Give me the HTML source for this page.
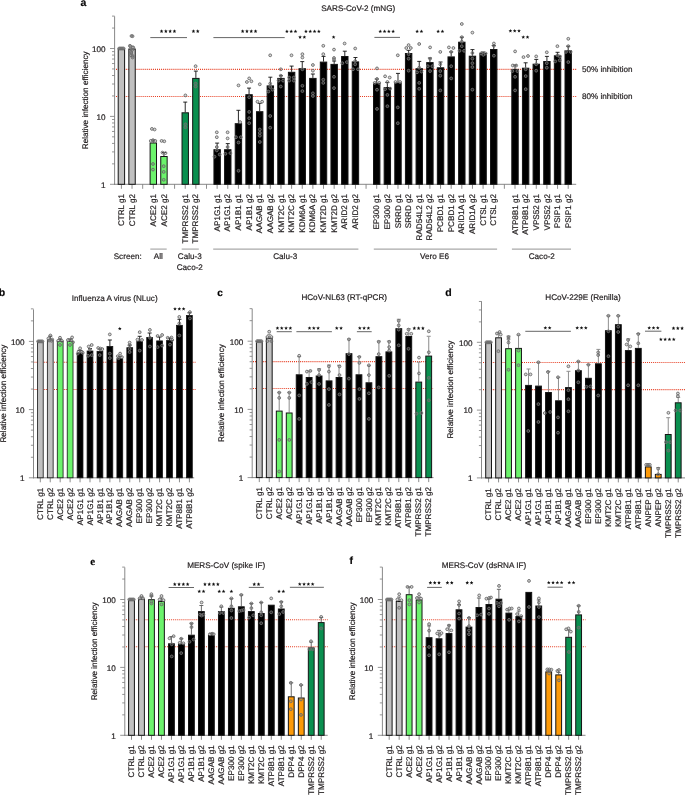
<!DOCTYPE html>
<html><head><meta charset="utf-8"><title>Figure</title>
<style>
html,body{margin:0;padding:0;background:#fff;}
body{width:685px;height:795px;overflow:hidden;font-family:"Liberation Sans", sans-serif;}
svg{display:block;will-change:transform;text-rendering:geometricPrecision;}
text{stroke:#231f20;stroke-width:0.2px;}
</style></head>
<body>
<svg width="685" height="795" viewBox="0 0 685 795">
<rect width="685" height="795" fill="#fff"/>
<line x1="116.00" y1="69.35" x2="576.20" y2="69.35" stroke="#e63a1e" stroke-width="1.05" stroke-dasharray="1 1.05"/>
<line x1="116.00" y1="96.50" x2="576.20" y2="96.50" stroke="#e63a1e" stroke-width="1.05" stroke-dasharray="1 1.05"/>
<line x1="114.60" y1="16.30" x2="114.60" y2="184.80" stroke="#7a7a7a" stroke-width="0.9"/>
<line x1="110.00" y1="184.30" x2="114.60" y2="184.30" stroke="#7a7a7a" stroke-width="0.8"/>
<line x1="112.00" y1="163.86" x2="114.60" y2="163.86" stroke="#7a7a7a" stroke-width="0.8"/>
<line x1="112.00" y1="151.90" x2="114.60" y2="151.90" stroke="#7a7a7a" stroke-width="0.8"/>
<line x1="112.00" y1="143.42" x2="114.60" y2="143.42" stroke="#7a7a7a" stroke-width="0.8"/>
<line x1="112.00" y1="136.84" x2="114.60" y2="136.84" stroke="#7a7a7a" stroke-width="0.8"/>
<line x1="112.00" y1="131.46" x2="114.60" y2="131.46" stroke="#7a7a7a" stroke-width="0.8"/>
<line x1="112.00" y1="126.92" x2="114.60" y2="126.92" stroke="#7a7a7a" stroke-width="0.8"/>
<line x1="112.00" y1="122.98" x2="114.60" y2="122.98" stroke="#7a7a7a" stroke-width="0.8"/>
<line x1="112.00" y1="119.51" x2="114.60" y2="119.51" stroke="#7a7a7a" stroke-width="0.8"/>
<line x1="110.00" y1="116.40" x2="114.60" y2="116.40" stroke="#7a7a7a" stroke-width="0.8"/>
<line x1="112.00" y1="95.96" x2="114.60" y2="95.96" stroke="#7a7a7a" stroke-width="0.8"/>
<line x1="112.00" y1="84.00" x2="114.60" y2="84.00" stroke="#7a7a7a" stroke-width="0.8"/>
<line x1="112.00" y1="75.52" x2="114.60" y2="75.52" stroke="#7a7a7a" stroke-width="0.8"/>
<line x1="112.00" y1="68.94" x2="114.60" y2="68.94" stroke="#7a7a7a" stroke-width="0.8"/>
<line x1="112.00" y1="63.56" x2="114.60" y2="63.56" stroke="#7a7a7a" stroke-width="0.8"/>
<line x1="112.00" y1="59.02" x2="114.60" y2="59.02" stroke="#7a7a7a" stroke-width="0.8"/>
<line x1="112.00" y1="55.08" x2="114.60" y2="55.08" stroke="#7a7a7a" stroke-width="0.8"/>
<line x1="112.00" y1="51.61" x2="114.60" y2="51.61" stroke="#7a7a7a" stroke-width="0.8"/>
<line x1="110.00" y1="48.50" x2="114.60" y2="48.50" stroke="#7a7a7a" stroke-width="0.8"/>
<line x1="112.00" y1="28.06" x2="114.60" y2="28.06" stroke="#7a7a7a" stroke-width="0.8"/>
<line x1="112.00" y1="16.10" x2="114.60" y2="16.10" stroke="#7a7a7a" stroke-width="0.8"/>
<text x="105.60" y="51.80" font-size="8.15" text-anchor="end" font-weight="normal" font-family='"Liberation Sans", sans-serif' fill="#231f20">100</text>
<text x="105.60" y="119.70" font-size="8.15" text-anchor="end" font-weight="normal" font-family='"Liberation Sans", sans-serif' fill="#231f20">10</text>
<text x="105.60" y="187.60" font-size="8.15" text-anchor="end" font-weight="normal" font-family='"Liberation Sans", sans-serif' fill="#231f20">1</text>
<line x1="114.15" y1="184.30" x2="576.20" y2="184.30" stroke="#7a7a7a" stroke-width="0.9"/>
<line x1="121.40" y1="184.30" x2="121.40" y2="188.80" stroke="#7a7a7a" stroke-width="0.85"/>
<line x1="132.04" y1="184.30" x2="132.04" y2="188.80" stroke="#7a7a7a" stroke-width="0.85"/>
<line x1="142.68" y1="184.30" x2="142.68" y2="188.80" stroke="#7a7a7a" stroke-width="0.85"/>
<line x1="153.31" y1="184.30" x2="153.31" y2="188.80" stroke="#7a7a7a" stroke-width="0.85"/>
<line x1="163.95" y1="184.30" x2="163.95" y2="188.80" stroke="#7a7a7a" stroke-width="0.85"/>
<line x1="174.59" y1="184.30" x2="174.59" y2="188.80" stroke="#7a7a7a" stroke-width="0.85"/>
<line x1="185.23" y1="184.30" x2="185.23" y2="188.80" stroke="#7a7a7a" stroke-width="0.85"/>
<line x1="195.87" y1="184.30" x2="195.87" y2="188.80" stroke="#7a7a7a" stroke-width="0.85"/>
<line x1="206.50" y1="184.30" x2="206.50" y2="188.80" stroke="#7a7a7a" stroke-width="0.85"/>
<line x1="217.14" y1="184.30" x2="217.14" y2="188.80" stroke="#7a7a7a" stroke-width="0.85"/>
<line x1="227.78" y1="184.30" x2="227.78" y2="188.80" stroke="#7a7a7a" stroke-width="0.85"/>
<line x1="238.42" y1="184.30" x2="238.42" y2="188.80" stroke="#7a7a7a" stroke-width="0.85"/>
<line x1="249.06" y1="184.30" x2="249.06" y2="188.80" stroke="#7a7a7a" stroke-width="0.85"/>
<line x1="259.69" y1="184.30" x2="259.69" y2="188.80" stroke="#7a7a7a" stroke-width="0.85"/>
<line x1="270.33" y1="184.30" x2="270.33" y2="188.80" stroke="#7a7a7a" stroke-width="0.85"/>
<line x1="280.97" y1="184.30" x2="280.97" y2="188.80" stroke="#7a7a7a" stroke-width="0.85"/>
<line x1="291.61" y1="184.30" x2="291.61" y2="188.80" stroke="#7a7a7a" stroke-width="0.85"/>
<line x1="302.25" y1="184.30" x2="302.25" y2="188.80" stroke="#7a7a7a" stroke-width="0.85"/>
<line x1="312.88" y1="184.30" x2="312.88" y2="188.80" stroke="#7a7a7a" stroke-width="0.85"/>
<line x1="323.52" y1="184.30" x2="323.52" y2="188.80" stroke="#7a7a7a" stroke-width="0.85"/>
<line x1="334.16" y1="184.30" x2="334.16" y2="188.80" stroke="#7a7a7a" stroke-width="0.85"/>
<line x1="344.80" y1="184.30" x2="344.80" y2="188.80" stroke="#7a7a7a" stroke-width="0.85"/>
<line x1="355.44" y1="184.30" x2="355.44" y2="188.80" stroke="#7a7a7a" stroke-width="0.85"/>
<line x1="366.07" y1="184.30" x2="366.07" y2="188.80" stroke="#7a7a7a" stroke-width="0.85"/>
<line x1="376.71" y1="184.30" x2="376.71" y2="188.80" stroke="#7a7a7a" stroke-width="0.85"/>
<line x1="387.35" y1="184.30" x2="387.35" y2="188.80" stroke="#7a7a7a" stroke-width="0.85"/>
<line x1="397.99" y1="184.30" x2="397.99" y2="188.80" stroke="#7a7a7a" stroke-width="0.85"/>
<line x1="408.63" y1="184.30" x2="408.63" y2="188.80" stroke="#7a7a7a" stroke-width="0.85"/>
<line x1="419.26" y1="184.30" x2="419.26" y2="188.80" stroke="#7a7a7a" stroke-width="0.85"/>
<line x1="429.90" y1="184.30" x2="429.90" y2="188.80" stroke="#7a7a7a" stroke-width="0.85"/>
<line x1="440.54" y1="184.30" x2="440.54" y2="188.80" stroke="#7a7a7a" stroke-width="0.85"/>
<line x1="451.18" y1="184.30" x2="451.18" y2="188.80" stroke="#7a7a7a" stroke-width="0.85"/>
<line x1="461.82" y1="184.30" x2="461.82" y2="188.80" stroke="#7a7a7a" stroke-width="0.85"/>
<line x1="472.45" y1="184.30" x2="472.45" y2="188.80" stroke="#7a7a7a" stroke-width="0.85"/>
<line x1="483.09" y1="184.30" x2="483.09" y2="188.80" stroke="#7a7a7a" stroke-width="0.85"/>
<line x1="493.73" y1="184.30" x2="493.73" y2="188.80" stroke="#7a7a7a" stroke-width="0.85"/>
<line x1="504.37" y1="184.30" x2="504.37" y2="188.80" stroke="#7a7a7a" stroke-width="0.85"/>
<line x1="515.01" y1="184.30" x2="515.01" y2="188.80" stroke="#7a7a7a" stroke-width="0.85"/>
<line x1="525.64" y1="184.30" x2="525.64" y2="188.80" stroke="#7a7a7a" stroke-width="0.85"/>
<line x1="536.28" y1="184.30" x2="536.28" y2="188.80" stroke="#7a7a7a" stroke-width="0.85"/>
<line x1="546.92" y1="184.30" x2="546.92" y2="188.80" stroke="#7a7a7a" stroke-width="0.85"/>
<line x1="557.56" y1="184.30" x2="557.56" y2="188.80" stroke="#7a7a7a" stroke-width="0.85"/>
<line x1="568.20" y1="184.30" x2="568.20" y2="188.80" stroke="#7a7a7a" stroke-width="0.85"/>
<rect x="118.20" y="49.00" width="6.40" height="135.30" fill="#c0c0c0" stroke="#141414" stroke-width="1.0"/>
<text x="124.00" y="193.90" font-size="8.15" text-anchor="end" font-weight="normal" font-family='"Liberation Sans", sans-serif' fill="#231f20" transform="rotate(-90 124.00 193.90)">CTRL g1</text>
<rect x="128.84" y="49.00" width="6.40" height="135.30" fill="#c0c0c0" stroke="#141414" stroke-width="1.0"/>
<text x="134.64" y="193.90" font-size="8.15" text-anchor="end" font-weight="normal" font-family='"Liberation Sans", sans-serif' fill="#231f20" transform="rotate(-90 134.64 193.90)">CTRL g2</text>
<line x1="153.31" y1="142.50" x2="153.31" y2="140.00" stroke="#111" stroke-width="0.9"/>
<line x1="151.31" y1="140.00" x2="155.31" y2="140.00" stroke="#111" stroke-width="0.9"/>
<rect x="150.11" y="143.00" width="6.40" height="41.30" fill="#6cf36c" stroke="#141414" stroke-width="1.0"/>
<text x="155.91" y="193.90" font-size="8.15" text-anchor="end" font-weight="normal" font-family='"Liberation Sans", sans-serif' fill="#231f20" transform="rotate(-90 155.91 193.90)">ACE2 g1</text>
<line x1="163.95" y1="156.00" x2="163.95" y2="152.50" stroke="#111" stroke-width="0.9"/>
<line x1="161.95" y1="152.50" x2="165.95" y2="152.50" stroke="#111" stroke-width="0.9"/>
<rect x="160.75" y="156.50" width="6.40" height="27.80" fill="#6cf36c" stroke="#141414" stroke-width="1.0"/>
<text x="166.55" y="193.90" font-size="8.15" text-anchor="end" font-weight="normal" font-family='"Liberation Sans", sans-serif' fill="#231f20" transform="rotate(-90 166.55 193.90)">ACE2 g2</text>
<line x1="185.23" y1="112.30" x2="185.23" y2="102.10" stroke="#111" stroke-width="0.9"/>
<line x1="183.23" y1="102.10" x2="187.23" y2="102.10" stroke="#111" stroke-width="0.9"/>
<rect x="182.03" y="112.80" width="6.40" height="71.50" fill="#0a8f4f" stroke="#141414" stroke-width="1.0"/>
<text x="187.83" y="193.90" font-size="8.15" text-anchor="end" font-weight="normal" font-family='"Liberation Sans", sans-serif' fill="#231f20" transform="rotate(-90 187.83 193.90)">TMPRSS2 g1</text>
<line x1="195.87" y1="77.90" x2="195.87" y2="71.10" stroke="#111" stroke-width="0.9"/>
<line x1="193.87" y1="71.10" x2="197.87" y2="71.10" stroke="#111" stroke-width="0.9"/>
<rect x="192.67" y="78.40" width="6.40" height="105.90" fill="#0a8f4f" stroke="#141414" stroke-width="1.0"/>
<text x="198.47" y="193.90" font-size="8.15" text-anchor="end" font-weight="normal" font-family='"Liberation Sans", sans-serif' fill="#231f20" transform="rotate(-90 198.47 193.90)">TMPRSS2 g2</text>
<line x1="217.14" y1="149.20" x2="217.14" y2="143.10" stroke="#111" stroke-width="0.9"/>
<line x1="215.14" y1="143.10" x2="219.14" y2="143.10" stroke="#111" stroke-width="0.9"/>
<rect x="213.94" y="149.70" width="6.40" height="34.60" fill="#000000" stroke="#141414" stroke-width="1.0"/>
<text x="219.74" y="193.90" font-size="8.15" text-anchor="end" font-weight="normal" font-family='"Liberation Sans", sans-serif' fill="#231f20" transform="rotate(-90 219.74 193.90)">AP1G1 g1</text>
<line x1="227.78" y1="149.20" x2="227.78" y2="143.60" stroke="#111" stroke-width="0.9"/>
<line x1="225.78" y1="143.60" x2="229.78" y2="143.60" stroke="#111" stroke-width="0.9"/>
<rect x="224.58" y="149.70" width="6.40" height="34.60" fill="#000000" stroke="#141414" stroke-width="1.0"/>
<text x="230.38" y="193.90" font-size="8.15" text-anchor="end" font-weight="normal" font-family='"Liberation Sans", sans-serif' fill="#231f20" transform="rotate(-90 230.38 193.90)">AP1G1 g2</text>
<line x1="238.42" y1="123.20" x2="238.42" y2="110.30" stroke="#111" stroke-width="0.9"/>
<line x1="236.42" y1="110.30" x2="240.42" y2="110.30" stroke="#111" stroke-width="0.9"/>
<rect x="235.22" y="123.70" width="6.40" height="60.60" fill="#000000" stroke="#141414" stroke-width="1.0"/>
<text x="241.02" y="193.90" font-size="8.15" text-anchor="end" font-weight="normal" font-family='"Liberation Sans", sans-serif' fill="#231f20" transform="rotate(-90 241.02 193.90)">AP1B1 g1</text>
<line x1="249.06" y1="94.20" x2="249.06" y2="88.10" stroke="#111" stroke-width="0.9"/>
<line x1="247.06" y1="88.10" x2="251.06" y2="88.10" stroke="#111" stroke-width="0.9"/>
<rect x="245.86" y="94.70" width="6.40" height="89.60" fill="#000000" stroke="#141414" stroke-width="1.0"/>
<text x="251.66" y="193.90" font-size="8.15" text-anchor="end" font-weight="normal" font-family='"Liberation Sans", sans-serif' fill="#231f20" transform="rotate(-90 251.66 193.90)">AP1B1 g2</text>
<line x1="259.69" y1="111.20" x2="259.69" y2="103.30" stroke="#111" stroke-width="0.9"/>
<line x1="257.69" y1="103.30" x2="261.69" y2="103.30" stroke="#111" stroke-width="0.9"/>
<rect x="256.49" y="111.70" width="6.40" height="72.60" fill="#000000" stroke="#141414" stroke-width="1.0"/>
<text x="262.29" y="193.90" font-size="8.15" text-anchor="end" font-weight="normal" font-family='"Liberation Sans", sans-serif' fill="#231f20" transform="rotate(-90 262.29 193.90)">AAGAB g1</text>
<line x1="270.33" y1="85.40" x2="270.33" y2="77.20" stroke="#111" stroke-width="0.9"/>
<line x1="268.33" y1="77.20" x2="272.33" y2="77.20" stroke="#111" stroke-width="0.9"/>
<rect x="267.13" y="85.90" width="6.40" height="98.40" fill="#000000" stroke="#141414" stroke-width="1.0"/>
<text x="272.93" y="193.90" font-size="8.15" text-anchor="end" font-weight="normal" font-family='"Liberation Sans", sans-serif' fill="#231f20" transform="rotate(-90 272.93 193.90)">AAGAB g2</text>
<line x1="280.97" y1="77.90" x2="280.97" y2="75.70" stroke="#111" stroke-width="0.9"/>
<line x1="278.97" y1="75.70" x2="282.97" y2="75.70" stroke="#111" stroke-width="0.9"/>
<rect x="277.77" y="78.40" width="6.40" height="105.90" fill="#000000" stroke="#141414" stroke-width="1.0"/>
<text x="283.57" y="193.90" font-size="8.15" text-anchor="end" font-weight="normal" font-family='"Liberation Sans", sans-serif' fill="#231f20" transform="rotate(-90 283.57 193.90)">KMT2C g1</text>
<line x1="291.61" y1="71.80" x2="291.61" y2="66.10" stroke="#111" stroke-width="0.9"/>
<line x1="289.61" y1="66.10" x2="293.61" y2="66.10" stroke="#111" stroke-width="0.9"/>
<rect x="288.41" y="72.30" width="6.40" height="112.00" fill="#000000" stroke="#141414" stroke-width="1.0"/>
<text x="294.21" y="193.90" font-size="8.15" text-anchor="end" font-weight="normal" font-family='"Liberation Sans", sans-serif' fill="#231f20" transform="rotate(-90 294.21 193.90)">KMT2C g2</text>
<line x1="302.25" y1="68.20" x2="302.25" y2="61.60" stroke="#111" stroke-width="0.9"/>
<line x1="300.25" y1="61.60" x2="304.25" y2="61.60" stroke="#111" stroke-width="0.9"/>
<rect x="299.05" y="68.70" width="6.40" height="115.60" fill="#000000" stroke="#141414" stroke-width="1.0"/>
<text x="304.85" y="193.90" font-size="8.15" text-anchor="end" font-weight="normal" font-family='"Liberation Sans", sans-serif' fill="#231f20" transform="rotate(-90 304.85 193.90)">KDM6A g1</text>
<line x1="312.88" y1="77.90" x2="312.88" y2="74.00" stroke="#111" stroke-width="0.9"/>
<line x1="310.88" y1="74.00" x2="314.88" y2="74.00" stroke="#111" stroke-width="0.9"/>
<rect x="309.68" y="78.40" width="6.40" height="105.90" fill="#000000" stroke="#141414" stroke-width="1.0"/>
<text x="315.48" y="193.90" font-size="8.15" text-anchor="end" font-weight="normal" font-family='"Liberation Sans", sans-serif' fill="#231f20" transform="rotate(-90 315.48 193.90)">KDM6A g2</text>
<line x1="323.52" y1="61.60" x2="323.52" y2="56.40" stroke="#111" stroke-width="0.9"/>
<line x1="321.52" y1="56.40" x2="325.52" y2="56.40" stroke="#111" stroke-width="0.9"/>
<rect x="320.32" y="62.10" width="6.40" height="122.20" fill="#000000" stroke="#141414" stroke-width="1.0"/>
<text x="326.12" y="193.90" font-size="8.15" text-anchor="end" font-weight="normal" font-family='"Liberation Sans", sans-serif' fill="#231f20" transform="rotate(-90 326.12 193.90)">KMT2D g1</text>
<line x1="334.16" y1="63.90" x2="334.16" y2="61.00" stroke="#111" stroke-width="0.9"/>
<line x1="332.16" y1="61.00" x2="336.16" y2="61.00" stroke="#111" stroke-width="0.9"/>
<rect x="330.96" y="64.40" width="6.40" height="119.90" fill="#000000" stroke="#141414" stroke-width="1.0"/>
<text x="336.76" y="193.90" font-size="8.15" text-anchor="end" font-weight="normal" font-family='"Liberation Sans", sans-serif' fill="#231f20" transform="rotate(-90 336.76 193.90)">KMT2D g2</text>
<line x1="344.80" y1="56.00" x2="344.80" y2="51.20" stroke="#111" stroke-width="0.9"/>
<line x1="342.80" y1="51.20" x2="346.80" y2="51.20" stroke="#111" stroke-width="0.9"/>
<rect x="341.60" y="56.50" width="6.40" height="127.80" fill="#000000" stroke="#141414" stroke-width="1.0"/>
<text x="347.40" y="193.90" font-size="8.15" text-anchor="end" font-weight="normal" font-family='"Liberation Sans", sans-serif' fill="#231f20" transform="rotate(-90 347.40 193.90)">ARID2 g1</text>
<line x1="355.44" y1="61.40" x2="355.44" y2="57.50" stroke="#111" stroke-width="0.9"/>
<line x1="353.44" y1="57.50" x2="357.44" y2="57.50" stroke="#111" stroke-width="0.9"/>
<rect x="352.24" y="61.90" width="6.40" height="122.40" fill="#000000" stroke="#141414" stroke-width="1.0"/>
<text x="358.04" y="193.90" font-size="8.15" text-anchor="end" font-weight="normal" font-family='"Liberation Sans", sans-serif' fill="#231f20" transform="rotate(-90 358.04 193.90)">ARID2 g2</text>
<line x1="376.71" y1="82.90" x2="376.71" y2="79.00" stroke="#111" stroke-width="0.9"/>
<line x1="374.71" y1="79.00" x2="378.71" y2="79.00" stroke="#111" stroke-width="0.9"/>
<rect x="373.51" y="83.40" width="6.40" height="100.90" fill="#000000" stroke="#141414" stroke-width="1.0"/>
<text x="379.31" y="193.90" font-size="8.15" text-anchor="end" font-weight="normal" font-family='"Liberation Sans", sans-serif' fill="#231f20" transform="rotate(-90 379.31 193.90)">EP300 g1</text>
<line x1="387.35" y1="87.00" x2="387.35" y2="82.50" stroke="#111" stroke-width="0.9"/>
<line x1="385.35" y1="82.50" x2="389.35" y2="82.50" stroke="#111" stroke-width="0.9"/>
<rect x="384.15" y="87.50" width="6.40" height="96.80" fill="#000000" stroke="#141414" stroke-width="1.0"/>
<text x="389.95" y="193.90" font-size="8.15" text-anchor="end" font-weight="normal" font-family='"Liberation Sans", sans-serif' fill="#231f20" transform="rotate(-90 389.95 193.90)">EP300 g2</text>
<line x1="397.99" y1="82.50" x2="397.99" y2="73.40" stroke="#111" stroke-width="0.9"/>
<line x1="395.99" y1="73.40" x2="399.99" y2="73.40" stroke="#111" stroke-width="0.9"/>
<rect x="394.79" y="83.00" width="6.40" height="101.30" fill="#000000" stroke="#141414" stroke-width="1.0"/>
<text x="400.59" y="193.90" font-size="8.15" text-anchor="end" font-weight="normal" font-family='"Liberation Sans", sans-serif' fill="#231f20" transform="rotate(-90 400.59 193.90)">SRRD g1</text>
<line x1="408.63" y1="53.00" x2="408.63" y2="50.30" stroke="#111" stroke-width="0.9"/>
<line x1="406.63" y1="50.30" x2="410.63" y2="50.30" stroke="#111" stroke-width="0.9"/>
<rect x="405.43" y="53.50" width="6.40" height="130.80" fill="#000000" stroke="#141414" stroke-width="1.0"/>
<text x="411.23" y="193.90" font-size="8.15" text-anchor="end" font-weight="normal" font-family='"Liberation Sans", sans-serif' fill="#231f20" transform="rotate(-90 411.23 193.90)">SRRD g2</text>
<line x1="419.26" y1="68.20" x2="419.26" y2="61.40" stroke="#111" stroke-width="0.9"/>
<line x1="417.26" y1="61.40" x2="421.26" y2="61.40" stroke="#111" stroke-width="0.9"/>
<rect x="416.06" y="68.70" width="6.40" height="115.60" fill="#000000" stroke="#141414" stroke-width="1.0"/>
<text x="421.86" y="193.90" font-size="8.15" text-anchor="end" font-weight="normal" font-family='"Liberation Sans", sans-serif' fill="#231f20" transform="rotate(-90 421.86 193.90)">RAD54L2 g1</text>
<line x1="429.90" y1="62.10" x2="429.90" y2="58.00" stroke="#111" stroke-width="0.9"/>
<line x1="427.90" y1="58.00" x2="431.90" y2="58.00" stroke="#111" stroke-width="0.9"/>
<rect x="426.70" y="62.60" width="6.40" height="121.70" fill="#000000" stroke="#141414" stroke-width="1.0"/>
<text x="432.50" y="193.90" font-size="8.15" text-anchor="end" font-weight="normal" font-family='"Liberation Sans", sans-serif' fill="#231f20" transform="rotate(-90 432.50 193.90)">RAD54L2 g2</text>
<line x1="440.54" y1="67.30" x2="440.54" y2="62.00" stroke="#111" stroke-width="0.9"/>
<line x1="438.54" y1="62.00" x2="442.54" y2="62.00" stroke="#111" stroke-width="0.9"/>
<rect x="437.34" y="67.80" width="6.40" height="116.50" fill="#000000" stroke="#141414" stroke-width="1.0"/>
<text x="443.14" y="193.90" font-size="8.15" text-anchor="end" font-weight="normal" font-family='"Liberation Sans", sans-serif' fill="#231f20" transform="rotate(-90 443.14 193.90)">PCBD1 g1</text>
<line x1="451.18" y1="56.40" x2="451.18" y2="51.90" stroke="#111" stroke-width="0.9"/>
<line x1="449.18" y1="51.90" x2="453.18" y2="51.90" stroke="#111" stroke-width="0.9"/>
<rect x="447.98" y="56.90" width="6.40" height="127.40" fill="#000000" stroke="#141414" stroke-width="1.0"/>
<text x="453.78" y="193.90" font-size="8.15" text-anchor="end" font-weight="normal" font-family='"Liberation Sans", sans-serif' fill="#231f20" transform="rotate(-90 453.78 193.90)">PCBD1 g2</text>
<line x1="461.82" y1="41.70" x2="461.82" y2="37.20" stroke="#111" stroke-width="0.9"/>
<line x1="459.82" y1="37.20" x2="463.82" y2="37.20" stroke="#111" stroke-width="0.9"/>
<rect x="458.62" y="42.20" width="6.40" height="142.10" fill="#000000" stroke="#141414" stroke-width="1.0"/>
<text x="464.42" y="193.90" font-size="8.15" text-anchor="end" font-weight="normal" font-family='"Liberation Sans", sans-serif' fill="#231f20" transform="rotate(-90 464.42 193.90)">ARID1A g1</text>
<line x1="472.45" y1="55.70" x2="472.45" y2="49.60" stroke="#111" stroke-width="0.9"/>
<line x1="470.45" y1="49.60" x2="474.45" y2="49.60" stroke="#111" stroke-width="0.9"/>
<rect x="469.25" y="56.20" width="6.40" height="128.10" fill="#000000" stroke="#141414" stroke-width="1.0"/>
<text x="475.05" y="193.90" font-size="8.15" text-anchor="end" font-weight="normal" font-family='"Liberation Sans", sans-serif' fill="#231f20" transform="rotate(-90 475.05 193.90)">ARID1A g2</text>
<line x1="483.09" y1="53.00" x2="483.09" y2="52.00" stroke="#111" stroke-width="0.9"/>
<line x1="481.09" y1="52.00" x2="485.09" y2="52.00" stroke="#111" stroke-width="0.9"/>
<rect x="479.89" y="53.50" width="6.40" height="130.80" fill="#000000" stroke="#141414" stroke-width="1.0"/>
<text x="485.69" y="193.90" font-size="8.15" text-anchor="end" font-weight="normal" font-family='"Liberation Sans", sans-serif' fill="#231f20" transform="rotate(-90 485.69 193.90)">CTSL g1</text>
<line x1="493.73" y1="49.00" x2="493.73" y2="45.50" stroke="#111" stroke-width="0.9"/>
<line x1="491.73" y1="45.50" x2="495.73" y2="45.50" stroke="#111" stroke-width="0.9"/>
<rect x="490.53" y="49.50" width="6.40" height="134.80" fill="#000000" stroke="#141414" stroke-width="1.0"/>
<text x="496.33" y="193.90" font-size="8.15" text-anchor="end" font-weight="normal" font-family='"Liberation Sans", sans-serif' fill="#231f20" transform="rotate(-90 496.33 193.90)">CTSL g2</text>
<line x1="515.01" y1="68.90" x2="515.01" y2="65.00" stroke="#111" stroke-width="0.9"/>
<line x1="513.01" y1="65.00" x2="517.01" y2="65.00" stroke="#111" stroke-width="0.9"/>
<rect x="511.81" y="69.40" width="6.40" height="114.90" fill="#000000" stroke="#141414" stroke-width="1.0"/>
<text x="517.61" y="193.90" font-size="8.15" text-anchor="end" font-weight="normal" font-family='"Liberation Sans", sans-serif' fill="#231f20" transform="rotate(-90 517.61 193.90)">ATP8B1 g1</text>
<line x1="525.64" y1="67.70" x2="525.64" y2="62.80" stroke="#111" stroke-width="0.9"/>
<line x1="523.64" y1="62.80" x2="527.64" y2="62.80" stroke="#111" stroke-width="0.9"/>
<rect x="522.44" y="68.20" width="6.40" height="116.10" fill="#000000" stroke="#141414" stroke-width="1.0"/>
<text x="528.24" y="193.90" font-size="8.15" text-anchor="end" font-weight="normal" font-family='"Liberation Sans", sans-serif' fill="#231f20" transform="rotate(-90 528.24 193.90)">ATP8B1 g2</text>
<line x1="536.28" y1="63.70" x2="536.28" y2="59.40" stroke="#111" stroke-width="0.9"/>
<line x1="534.28" y1="59.40" x2="538.28" y2="59.40" stroke="#111" stroke-width="0.9"/>
<rect x="533.08" y="64.20" width="6.40" height="120.10" fill="#000000" stroke="#141414" stroke-width="1.0"/>
<text x="538.88" y="193.90" font-size="8.15" text-anchor="end" font-weight="normal" font-family='"Liberation Sans", sans-serif' fill="#231f20" transform="rotate(-90 538.88 193.90)">VPS52 g1</text>
<line x1="546.92" y1="61.00" x2="546.92" y2="56.40" stroke="#111" stroke-width="0.9"/>
<line x1="544.92" y1="56.40" x2="548.92" y2="56.40" stroke="#111" stroke-width="0.9"/>
<rect x="543.72" y="61.50" width="6.40" height="122.80" fill="#000000" stroke="#141414" stroke-width="1.0"/>
<text x="549.52" y="193.90" font-size="8.15" text-anchor="end" font-weight="normal" font-family='"Liberation Sans", sans-serif' fill="#231f20" transform="rotate(-90 549.52 193.90)">VPS52 g2</text>
<line x1="557.56" y1="55.30" x2="557.56" y2="52.30" stroke="#111" stroke-width="0.9"/>
<line x1="555.56" y1="52.30" x2="559.56" y2="52.30" stroke="#111" stroke-width="0.9"/>
<rect x="554.36" y="55.80" width="6.40" height="128.50" fill="#000000" stroke="#141414" stroke-width="1.0"/>
<text x="560.16" y="193.90" font-size="8.15" text-anchor="end" font-weight="normal" font-family='"Liberation Sans", sans-serif' fill="#231f20" transform="rotate(-90 560.16 193.90)">PSIP1 g1</text>
<line x1="568.20" y1="50.30" x2="568.20" y2="46.20" stroke="#111" stroke-width="0.9"/>
<line x1="566.20" y1="46.20" x2="570.20" y2="46.20" stroke="#111" stroke-width="0.9"/>
<rect x="565.00" y="50.80" width="6.40" height="133.50" fill="#000000" stroke="#141414" stroke-width="1.0"/>
<text x="570.80" y="193.90" font-size="8.15" text-anchor="end" font-weight="normal" font-family='"Liberation Sans", sans-serif' fill="#231f20" transform="rotate(-90 570.80 193.90)">PSIP1 g2</text>
<g fill="rgba(128,128,128,0.3)" stroke="#6e6e6e" stroke-width="0.95"><circle cx="119.20" cy="48.50" r="1.4"/><circle cx="120.30" cy="48.50" r="1.4"/><circle cx="121.40" cy="48.50" r="1.4"/><circle cx="122.50" cy="48.50" r="1.4"/><circle cx="123.60" cy="48.50" r="1.4"/><circle cx="132.54" cy="36.20" r="1.4"/><circle cx="130.54" cy="46.50" r="1.4"/><circle cx="133.24" cy="47.50" r="1.4"/><circle cx="132.04" cy="50.00" r="1.4"/><circle cx="131.24" cy="53.00" r="1.4"/><circle cx="132.64" cy="56.00" r="1.4"/><circle cx="131.50" cy="36.00" r="1.4"/><circle cx="129.90" cy="45.80" r="1.4"/><circle cx="132.60" cy="47.40" r="1.4"/><circle cx="131.00" cy="51.90" r="1.4"/><circle cx="131.00" cy="55.30" r="1.4"/><circle cx="132.60" cy="57.50" r="1.4"/><circle cx="151.90" cy="128.90" r="1.4"/><circle cx="154.60" cy="129.50" r="1.4"/><circle cx="150.80" cy="140.90" r="1.4"/><circle cx="153.00" cy="140.20" r="1.4"/><circle cx="155.30" cy="140.90" r="1.4"/><circle cx="153.00" cy="164.00" r="1.4"/><circle cx="153.00" cy="169.60" r="1.4"/><circle cx="161.60" cy="140.90" r="1.4"/><circle cx="164.30" cy="141.30" r="1.4"/><circle cx="162.50" cy="152.60" r="1.4"/><circle cx="165.50" cy="153.10" r="1.4"/><circle cx="163.70" cy="166.20" r="1.4"/><circle cx="163.70" cy="171.90" r="1.4"/><circle cx="163.70" cy="179.80" r="1.4"/><circle cx="185.40" cy="95.40" r="1.4"/><circle cx="185.40" cy="124.30" r="1.4"/><circle cx="185.40" cy="127.30" r="1.4"/><circle cx="195.60" cy="66.20" r="1.4"/><circle cx="195.60" cy="83.60" r="1.4"/><circle cx="195.60" cy="86.50" r="1.4"/><circle cx="216.80" cy="132.30" r="1.4"/><circle cx="216.80" cy="137.20" r="1.4"/><circle cx="216.80" cy="147.00" r="1.4"/><circle cx="214.50" cy="156.70" r="1.4"/><circle cx="219.70" cy="154.50" r="1.4"/><circle cx="216.80" cy="150.40" r="1.4"/><circle cx="227.60" cy="132.30" r="1.4"/><circle cx="227.60" cy="138.40" r="1.4"/><circle cx="227.60" cy="147.00" r="1.4"/><circle cx="225.40" cy="153.80" r="1.4"/><circle cx="230.40" cy="153.10" r="1.4"/><circle cx="238.50" cy="85.40" r="1.4"/><circle cx="240.10" cy="122.10" r="1.4"/><circle cx="236.00" cy="137.20" r="1.4"/><circle cx="238.50" cy="142.50" r="1.4"/><circle cx="240.80" cy="137.20" r="1.4"/><circle cx="238.50" cy="170.80" r="1.4"/><circle cx="246.90" cy="82.00" r="1.4"/><circle cx="249.20" cy="78.40" r="1.4"/><circle cx="251.40" cy="81.30" r="1.4"/><circle cx="249.20" cy="97.20" r="1.4"/><circle cx="249.20" cy="111.90" r="1.4"/><circle cx="249.20" cy="118.20" r="1.4"/><circle cx="249.20" cy="123.20" r="1.4"/><circle cx="259.80" cy="84.30" r="1.4"/><circle cx="257.50" cy="101.70" r="1.4"/><circle cx="262.10" cy="101.70" r="1.4"/><circle cx="259.80" cy="129.50" r="1.4"/><circle cx="259.80" cy="132.90" r="1.4"/><circle cx="259.80" cy="135.70" r="1.4"/><circle cx="259.80" cy="142.00" r="1.4"/><circle cx="270.20" cy="55.30" r="1.4"/><circle cx="270.20" cy="83.60" r="1.4"/><circle cx="268.40" cy="91.50" r="1.4"/><circle cx="272.50" cy="89.70" r="1.4"/><circle cx="270.20" cy="87.00" r="1.4"/><circle cx="270.20" cy="116.00" r="1.4"/><circle cx="270.20" cy="127.70" r="1.4"/><circle cx="280.80" cy="69.30" r="1.4"/><circle cx="280.80" cy="75.70" r="1.4"/><circle cx="278.60" cy="80.60" r="1.4"/><circle cx="283.10" cy="80.60" r="1.4"/><circle cx="280.80" cy="86.50" r="1.4"/><circle cx="291.50" cy="55.30" r="1.4"/><circle cx="289.20" cy="77.50" r="1.4"/><circle cx="293.80" cy="77.50" r="1.4"/><circle cx="289.20" cy="80.60" r="1.4"/><circle cx="293.80" cy="80.60" r="1.4"/><circle cx="302.40" cy="54.20" r="1.4"/><circle cx="302.40" cy="57.50" r="1.4"/><circle cx="302.40" cy="69.30" r="1.4"/><circle cx="302.40" cy="85.80" r="1.4"/><circle cx="302.40" cy="91.10" r="1.4"/><circle cx="312.90" cy="65.00" r="1.4"/><circle cx="312.90" cy="70.70" r="1.4"/><circle cx="312.90" cy="93.30" r="1.4"/><circle cx="312.90" cy="96.00" r="1.4"/><circle cx="323.30" cy="45.80" r="1.4"/><circle cx="323.30" cy="54.20" r="1.4"/><circle cx="323.30" cy="79.70" r="1.4"/><circle cx="323.30" cy="82.90" r="1.4"/><circle cx="334.00" cy="49.60" r="1.4"/><circle cx="334.00" cy="58.00" r="1.4"/><circle cx="334.00" cy="59.40" r="1.4"/><circle cx="334.00" cy="76.80" r="1.4"/><circle cx="334.00" cy="88.10" r="1.4"/><circle cx="344.60" cy="43.50" r="1.4"/><circle cx="342.30" cy="63.20" r="1.4"/><circle cx="346.90" cy="62.10" r="1.4"/><circle cx="355.20" cy="48.50" r="1.4"/><circle cx="355.20" cy="61.00" r="1.4"/><circle cx="355.20" cy="64.30" r="1.4"/><circle cx="353.00" cy="69.30" r="1.4"/><circle cx="358.00" cy="69.30" r="1.4"/><circle cx="377.00" cy="68.40" r="1.4"/><circle cx="377.00" cy="79.00" r="1.4"/><circle cx="374.70" cy="82.90" r="1.4"/><circle cx="379.20" cy="82.90" r="1.4"/><circle cx="377.00" cy="89.70" r="1.4"/><circle cx="377.00" cy="108.90" r="1.4"/><circle cx="385.10" cy="76.30" r="1.4"/><circle cx="389.70" cy="77.50" r="1.4"/><circle cx="387.40" cy="82.00" r="1.4"/><circle cx="385.10" cy="89.20" r="1.4"/><circle cx="390.10" cy="88.60" r="1.4"/><circle cx="387.40" cy="94.90" r="1.4"/><circle cx="387.40" cy="106.20" r="1.4"/><circle cx="397.80" cy="55.30" r="1.4"/><circle cx="395.50" cy="82.00" r="1.4"/><circle cx="400.10" cy="82.00" r="1.4"/><circle cx="397.80" cy="107.40" r="1.4"/><circle cx="397.80" cy="123.20" r="1.4"/><circle cx="408.60" cy="45.10" r="1.4"/><circle cx="406.30" cy="48.00" r="1.4"/><circle cx="410.80" cy="48.00" r="1.4"/><circle cx="408.60" cy="54.20" r="1.4"/><circle cx="408.60" cy="58.70" r="1.4"/><circle cx="408.60" cy="70.70" r="1.4"/><circle cx="419.20" cy="44.00" r="1.4"/><circle cx="419.20" cy="67.70" r="1.4"/><circle cx="417.00" cy="72.30" r="1.4"/><circle cx="421.50" cy="71.60" r="1.4"/><circle cx="419.20" cy="82.90" r="1.4"/><circle cx="419.20" cy="88.80" r="1.4"/><circle cx="430.10" cy="47.40" r="1.4"/><circle cx="427.80" cy="66.20" r="1.4"/><circle cx="432.40" cy="66.20" r="1.4"/><circle cx="430.10" cy="71.10" r="1.4"/><circle cx="430.10" cy="58.70" r="1.4"/><circle cx="440.30" cy="51.90" r="1.4"/><circle cx="440.30" cy="64.30" r="1.4"/><circle cx="440.30" cy="71.10" r="1.4"/><circle cx="440.30" cy="75.70" r="1.4"/><circle cx="440.30" cy="90.40" r="1.4"/><circle cx="448.90" cy="47.40" r="1.4"/><circle cx="453.40" cy="48.00" r="1.4"/><circle cx="451.20" cy="51.90" r="1.4"/><circle cx="451.20" cy="66.20" r="1.4"/><circle cx="451.20" cy="78.40" r="1.4"/><circle cx="461.80" cy="24.00" r="1.4"/><circle cx="461.80" cy="37.20" r="1.4"/><circle cx="461.80" cy="41.70" r="1.4"/><circle cx="459.50" cy="50.80" r="1.4"/><circle cx="464.10" cy="50.80" r="1.4"/><circle cx="461.80" cy="46.20" r="1.4"/><circle cx="472.40" cy="32.60" r="1.4"/><circle cx="472.40" cy="53.00" r="1.4"/><circle cx="472.40" cy="58.70" r="1.4"/><circle cx="472.40" cy="63.20" r="1.4"/><circle cx="472.40" cy="67.10" r="1.4"/><circle cx="472.40" cy="89.70" r="1.4"/><circle cx="481.00" cy="53.50" r="1.4"/><circle cx="483.30" cy="54.80" r="1.4"/><circle cx="485.60" cy="53.50" r="1.4"/><circle cx="493.90" cy="43.50" r="1.4"/><circle cx="493.90" cy="45.80" r="1.4"/><circle cx="493.90" cy="55.70" r="1.4"/><circle cx="515.10" cy="51.40" r="1.4"/><circle cx="512.80" cy="65.50" r="1.4"/><circle cx="516.20" cy="65.50" r="1.4"/><circle cx="512.40" cy="71.10" r="1.4"/><circle cx="517.40" cy="71.10" r="1.4"/><circle cx="515.10" cy="76.80" r="1.4"/><circle cx="515.10" cy="90.40" r="1.4"/><circle cx="523.50" cy="57.10" r="1.4"/><circle cx="528.00" cy="56.00" r="1.4"/><circle cx="525.70" cy="69.30" r="1.4"/><circle cx="525.70" cy="76.10" r="1.4"/><circle cx="525.70" cy="89.20" r="1.4"/><circle cx="536.20" cy="56.40" r="1.4"/><circle cx="536.20" cy="64.30" r="1.4"/><circle cx="536.20" cy="70.70" r="1.4"/><circle cx="546.80" cy="52.30" r="1.4"/><circle cx="546.80" cy="63.20" r="1.4"/><circle cx="546.80" cy="67.70" r="1.4"/><circle cx="557.40" cy="46.20" r="1.4"/><circle cx="555.20" cy="61.40" r="1.4"/><circle cx="559.70" cy="56.40" r="1.4"/><circle cx="559.70" cy="60.30" r="1.4"/><circle cx="557.40" cy="55.30" r="1.4"/><circle cx="568.30" cy="38.80" r="1.4"/><circle cx="566.00" cy="51.90" r="1.4"/><circle cx="570.60" cy="51.90" r="1.4"/><circle cx="568.30" cy="46.20" r="1.4"/><circle cx="568.30" cy="62.10" r="1.4"/></g>
<text x="358.20" y="10.60" font-size="8.15" text-anchor="middle" font-weight="normal" font-family='"Liberation Sans", sans-serif' fill="#231f20">SARS-CoV-2 (mNG)</text>
<text x="88.20" y="100.30" font-size="8.15" text-anchor="middle" font-weight="normal" font-family='"Liberation Sans", sans-serif' fill="#231f20" transform="rotate(-90 88.20 100.30)">Relative infection efficiency</text>
<text x="80.60" y="5.60" font-size="10.5" text-anchor="start" font-weight="bold" font-family='"Liberation Sans", sans-serif' fill="#000">a</text>
<g fill="#111"><polygon points="161.55,29.35 162.05,30.61 163.40,30.70 162.36,31.56 162.70,32.88 161.55,32.15 160.40,32.88 160.74,31.56 159.70,30.70 161.05,30.61"/><polygon points="165.85,29.35 166.35,30.61 167.70,30.70 166.66,31.56 167.00,32.88 165.85,32.15 164.70,32.88 165.04,31.56 164.00,30.70 165.35,30.61"/><polygon points="170.15,29.35 170.65,30.61 172.00,30.70 170.96,31.56 171.30,32.88 170.15,32.15 169.00,32.88 169.34,31.56 168.30,30.70 169.65,30.61"/><polygon points="174.45,29.35 174.95,30.61 176.30,30.70 175.26,31.56 175.60,32.88 174.45,32.15 173.30,32.88 173.64,31.56 172.60,30.70 173.95,30.61"/></g>
<line x1="150.30" y1="37.60" x2="187.00" y2="37.60" stroke="#555" stroke-width="0.9"/>
<g fill="#111"><polygon points="193.45,29.35 193.95,30.61 195.30,30.70 194.26,31.56 194.60,32.88 193.45,32.15 192.30,32.88 192.64,31.56 191.60,30.70 192.95,30.61"/><polygon points="197.75,29.35 198.25,30.61 199.60,30.70 198.56,31.56 198.90,32.88 197.75,32.15 196.60,32.88 196.94,31.56 195.90,30.70 197.25,30.61"/></g>
<g fill="#111"><polygon points="242.65,29.35 243.15,30.61 244.50,30.70 243.46,31.56 243.80,32.88 242.65,32.15 241.50,32.88 241.84,31.56 240.80,30.70 242.15,30.61"/><polygon points="246.95,29.35 247.45,30.61 248.80,30.70 247.76,31.56 248.10,32.88 246.95,32.15 245.80,32.88 246.14,31.56 245.10,30.70 246.45,30.61"/><polygon points="251.25,29.35 251.75,30.61 253.10,30.70 252.06,31.56 252.40,32.88 251.25,32.15 250.10,32.88 250.44,31.56 249.40,30.70 250.75,30.61"/><polygon points="255.55,29.35 256.05,30.61 257.40,30.70 256.36,31.56 256.70,32.88 255.55,32.15 254.40,32.88 254.74,31.56 253.70,30.70 255.05,30.61"/></g>
<line x1="213.40" y1="37.60" x2="284.70" y2="37.60" stroke="#555" stroke-width="0.9"/>
<g fill="#111"><polygon points="286.90,29.55 287.40,30.81 288.75,30.90 287.71,31.76 288.05,33.08 286.90,32.35 285.75,33.08 286.09,31.76 285.05,30.90 286.40,30.81"/><polygon points="291.20,29.55 291.70,30.81 293.05,30.90 292.01,31.76 292.35,33.08 291.20,32.35 290.05,33.08 290.39,31.76 289.35,30.90 290.70,30.81"/><polygon points="295.50,29.55 296.00,30.81 297.35,30.90 296.31,31.76 296.65,33.08 295.50,32.35 294.35,33.08 294.69,31.76 293.65,30.90 295.00,30.81"/></g>
<g fill="#111"><polygon points="300.05,35.25 300.55,36.51 301.90,36.60 300.86,37.46 301.20,38.78 300.05,38.05 298.90,38.78 299.24,37.46 298.20,36.60 299.55,36.51"/><polygon points="304.35,35.25 304.85,36.51 306.20,36.60 305.16,37.46 305.50,38.78 304.35,38.05 303.20,38.78 303.54,37.46 302.50,36.60 303.85,36.51"/></g>
<g fill="#111"><polygon points="305.95,29.55 306.45,30.81 307.80,30.90 306.76,31.76 307.10,33.08 305.95,32.35 304.80,33.08 305.14,31.76 304.10,30.90 305.45,30.81"/><polygon points="310.25,29.55 310.75,30.81 312.10,30.90 311.06,31.76 311.40,33.08 310.25,32.35 309.10,33.08 309.44,31.76 308.40,30.90 309.75,30.81"/><polygon points="314.55,29.55 315.05,30.81 316.40,30.90 315.36,31.76 315.70,33.08 314.55,32.35 313.40,33.08 313.74,31.76 312.70,30.90 314.05,30.81"/><polygon points="318.85,29.55 319.35,30.81 320.70,30.90 319.66,31.76 320.00,33.08 318.85,32.35 317.70,33.08 318.04,31.76 317.00,30.90 318.35,30.81"/></g>
<g fill="#111"><polygon points="333.60,35.25 334.10,36.51 335.45,36.60 334.41,37.46 334.75,38.78 333.60,38.05 332.45,38.78 332.79,37.46 331.75,36.60 333.10,36.51"/></g>
<g fill="#111"><polygon points="380.25,29.55 380.75,30.81 382.10,30.90 381.06,31.76 381.40,33.08 380.25,32.35 379.10,33.08 379.44,31.76 378.40,30.90 379.75,30.81"/><polygon points="384.55,29.55 385.05,30.81 386.40,30.90 385.36,31.76 385.70,33.08 384.55,32.35 383.40,33.08 383.74,31.76 382.70,30.90 384.05,30.81"/><polygon points="388.85,29.55 389.35,30.81 390.70,30.90 389.66,31.76 390.00,33.08 388.85,32.35 387.70,33.08 388.04,31.76 387.00,30.90 388.35,30.81"/><polygon points="393.15,29.55 393.65,30.81 395.00,30.90 393.96,31.76 394.30,33.08 393.15,32.35 392.00,33.08 392.34,31.76 391.30,30.90 392.65,30.81"/></g>
<line x1="374.40" y1="37.40" x2="400.00" y2="37.40" stroke="#555" stroke-width="0.9"/>
<g fill="#111"><polygon points="417.15,29.55 417.65,30.81 419.00,30.90 417.96,31.76 418.30,33.08 417.15,32.35 416.00,33.08 416.34,31.76 415.30,30.90 416.65,30.81"/><polygon points="421.45,29.55 421.95,30.81 423.30,30.90 422.26,31.76 422.60,33.08 421.45,32.35 420.30,33.08 420.64,31.76 419.60,30.90 420.95,30.81"/></g>
<g fill="#111"><polygon points="438.15,29.55 438.65,30.81 440.00,30.90 438.96,31.76 439.30,33.08 438.15,32.35 437.00,33.08 437.34,31.76 436.30,30.90 437.65,30.81"/><polygon points="442.45,29.55 442.95,30.81 444.30,30.90 443.26,31.76 443.60,33.08 442.45,32.35 441.30,33.08 441.64,31.76 440.60,30.90 441.95,30.81"/></g>
<g fill="#111"><polygon points="510.40,28.95 510.90,30.21 512.25,30.30 511.21,31.16 511.55,32.48 510.40,31.75 509.25,32.48 509.59,31.16 508.55,30.30 509.90,30.21"/><polygon points="514.70,28.95 515.20,30.21 516.55,30.30 515.51,31.16 515.85,32.48 514.70,31.75 513.55,32.48 513.89,31.16 512.85,30.30 514.20,30.21"/><polygon points="519.00,28.95 519.50,30.21 520.85,30.30 519.81,31.16 520.15,32.48 519.00,31.75 517.85,32.48 518.19,31.16 517.15,30.30 518.50,30.21"/></g>
<g fill="#111"><polygon points="523.25,35.25 523.75,36.51 525.10,36.60 524.06,37.46 524.40,38.78 523.25,38.05 522.10,38.78 522.44,37.46 521.40,36.60 522.75,36.51"/><polygon points="527.55,35.25 528.05,36.51 529.40,36.60 528.36,37.46 528.70,38.78 527.55,38.05 526.40,38.78 526.74,37.46 525.70,36.60 527.05,36.51"/></g>
<line x1="33.50" y1="362.30" x2="196.00" y2="362.30" stroke="#e63a1e" stroke-width="1.05" stroke-dasharray="1 1.05"/>
<line x1="33.50" y1="389.40" x2="196.00" y2="389.40" stroke="#e63a1e" stroke-width="1.05" stroke-dasharray="1 1.05"/>
<line x1="33.50" y1="309.40" x2="33.50" y2="478.30" stroke="#7a7a7a" stroke-width="0.9"/>
<line x1="28.90" y1="477.80" x2="33.50" y2="477.80" stroke="#7a7a7a" stroke-width="0.8"/>
<line x1="30.90" y1="457.27" x2="33.50" y2="457.27" stroke="#7a7a7a" stroke-width="0.8"/>
<line x1="30.90" y1="445.26" x2="33.50" y2="445.26" stroke="#7a7a7a" stroke-width="0.8"/>
<line x1="30.90" y1="436.74" x2="33.50" y2="436.74" stroke="#7a7a7a" stroke-width="0.8"/>
<line x1="30.90" y1="430.13" x2="33.50" y2="430.13" stroke="#7a7a7a" stroke-width="0.8"/>
<line x1="30.90" y1="424.73" x2="33.50" y2="424.73" stroke="#7a7a7a" stroke-width="0.8"/>
<line x1="30.90" y1="420.16" x2="33.50" y2="420.16" stroke="#7a7a7a" stroke-width="0.8"/>
<line x1="30.90" y1="416.21" x2="33.50" y2="416.21" stroke="#7a7a7a" stroke-width="0.8"/>
<line x1="30.90" y1="412.72" x2="33.50" y2="412.72" stroke="#7a7a7a" stroke-width="0.8"/>
<line x1="28.90" y1="409.60" x2="33.50" y2="409.60" stroke="#7a7a7a" stroke-width="0.8"/>
<line x1="30.90" y1="389.07" x2="33.50" y2="389.07" stroke="#7a7a7a" stroke-width="0.8"/>
<line x1="30.90" y1="377.06" x2="33.50" y2="377.06" stroke="#7a7a7a" stroke-width="0.8"/>
<line x1="30.90" y1="368.54" x2="33.50" y2="368.54" stroke="#7a7a7a" stroke-width="0.8"/>
<line x1="30.90" y1="361.93" x2="33.50" y2="361.93" stroke="#7a7a7a" stroke-width="0.8"/>
<line x1="30.90" y1="356.53" x2="33.50" y2="356.53" stroke="#7a7a7a" stroke-width="0.8"/>
<line x1="30.90" y1="351.96" x2="33.50" y2="351.96" stroke="#7a7a7a" stroke-width="0.8"/>
<line x1="30.90" y1="348.01" x2="33.50" y2="348.01" stroke="#7a7a7a" stroke-width="0.8"/>
<line x1="30.90" y1="344.52" x2="33.50" y2="344.52" stroke="#7a7a7a" stroke-width="0.8"/>
<line x1="28.90" y1="341.40" x2="33.50" y2="341.40" stroke="#7a7a7a" stroke-width="0.8"/>
<line x1="30.90" y1="320.87" x2="33.50" y2="320.87" stroke="#7a7a7a" stroke-width="0.8"/>
<line x1="30.90" y1="308.86" x2="33.50" y2="308.86" stroke="#7a7a7a" stroke-width="0.8"/>
<text x="24.50" y="344.70" font-size="8.15" text-anchor="end" font-weight="normal" font-family='"Liberation Sans", sans-serif' fill="#231f20">100</text>
<text x="24.50" y="412.90" font-size="8.15" text-anchor="end" font-weight="normal" font-family='"Liberation Sans", sans-serif' fill="#231f20">10</text>
<text x="24.50" y="481.10" font-size="8.15" text-anchor="end" font-weight="normal" font-family='"Liberation Sans", sans-serif' fill="#231f20">1</text>
<line x1="33.05" y1="477.80" x2="194.20" y2="477.80" stroke="#7a7a7a" stroke-width="0.9"/>
<line x1="40.30" y1="477.80" x2="40.30" y2="482.30" stroke="#7a7a7a" stroke-width="0.85"/>
<line x1="50.24" y1="477.80" x2="50.24" y2="482.30" stroke="#7a7a7a" stroke-width="0.85"/>
<line x1="60.18" y1="477.80" x2="60.18" y2="482.30" stroke="#7a7a7a" stroke-width="0.85"/>
<line x1="70.12" y1="477.80" x2="70.12" y2="482.30" stroke="#7a7a7a" stroke-width="0.85"/>
<line x1="80.06" y1="477.80" x2="80.06" y2="482.30" stroke="#7a7a7a" stroke-width="0.85"/>
<line x1="90.00" y1="477.80" x2="90.00" y2="482.30" stroke="#7a7a7a" stroke-width="0.85"/>
<line x1="99.94" y1="477.80" x2="99.94" y2="482.30" stroke="#7a7a7a" stroke-width="0.85"/>
<line x1="109.88" y1="477.80" x2="109.88" y2="482.30" stroke="#7a7a7a" stroke-width="0.85"/>
<line x1="119.82" y1="477.80" x2="119.82" y2="482.30" stroke="#7a7a7a" stroke-width="0.85"/>
<line x1="129.76" y1="477.80" x2="129.76" y2="482.30" stroke="#7a7a7a" stroke-width="0.85"/>
<line x1="139.70" y1="477.80" x2="139.70" y2="482.30" stroke="#7a7a7a" stroke-width="0.85"/>
<line x1="149.64" y1="477.80" x2="149.64" y2="482.30" stroke="#7a7a7a" stroke-width="0.85"/>
<line x1="159.58" y1="477.80" x2="159.58" y2="482.30" stroke="#7a7a7a" stroke-width="0.85"/>
<line x1="169.52" y1="477.80" x2="169.52" y2="482.30" stroke="#7a7a7a" stroke-width="0.85"/>
<line x1="179.46" y1="477.80" x2="179.46" y2="482.30" stroke="#7a7a7a" stroke-width="0.85"/>
<line x1="189.40" y1="477.80" x2="189.40" y2="482.30" stroke="#7a7a7a" stroke-width="0.85"/>
<rect x="37.40" y="341.80" width="5.80" height="136.00" fill="#c0c0c0" stroke="#141414" stroke-width="0.8"/>
<text x="42.90" y="487.70" font-size="8.15" text-anchor="end" font-weight="normal" font-family='"Liberation Sans", sans-serif' fill="#231f20" transform="rotate(-90 42.90 487.70)">CTRL g1</text>
<line x1="50.24" y1="339.50" x2="50.24" y2="336.20" stroke="#111" stroke-width="0.9"/>
<line x1="48.24" y1="336.20" x2="52.24" y2="336.20" stroke="#111" stroke-width="0.9"/>
<rect x="47.34" y="339.90" width="5.80" height="137.90" fill="#c0c0c0" stroke="#141414" stroke-width="0.8"/>
<text x="52.84" y="487.70" font-size="8.15" text-anchor="end" font-weight="normal" font-family='"Liberation Sans", sans-serif' fill="#231f20" transform="rotate(-90 52.84 487.70)">CTRL g2</text>
<line x1="60.18" y1="341.00" x2="60.18" y2="339.00" stroke="#111" stroke-width="0.9"/>
<line x1="58.18" y1="339.00" x2="62.18" y2="339.00" stroke="#111" stroke-width="0.9"/>
<rect x="57.28" y="341.40" width="5.80" height="136.40" fill="#6cf36c" stroke="#141414" stroke-width="0.8"/>
<text x="62.78" y="487.70" font-size="8.15" text-anchor="end" font-weight="normal" font-family='"Liberation Sans", sans-serif' fill="#231f20" transform="rotate(-90 62.78 487.70)">ACE2 g1</text>
<line x1="70.12" y1="341.00" x2="70.12" y2="339.00" stroke="#111" stroke-width="0.9"/>
<line x1="68.12" y1="339.00" x2="72.12" y2="339.00" stroke="#111" stroke-width="0.9"/>
<rect x="67.22" y="341.40" width="5.80" height="136.40" fill="#6cf36c" stroke="#141414" stroke-width="0.8"/>
<text x="72.72" y="487.70" font-size="8.15" text-anchor="end" font-weight="normal" font-family='"Liberation Sans", sans-serif' fill="#231f20" transform="rotate(-90 72.72 487.70)">ACE2 g2</text>
<line x1="80.06" y1="352.80" x2="80.06" y2="350.50" stroke="#111" stroke-width="0.9"/>
<line x1="78.06" y1="350.50" x2="82.06" y2="350.50" stroke="#111" stroke-width="0.9"/>
<rect x="77.16" y="353.20" width="5.80" height="124.60" fill="#000000" stroke="#141414" stroke-width="0.8"/>
<text x="82.66" y="487.70" font-size="8.15" text-anchor="end" font-weight="normal" font-family='"Liberation Sans", sans-serif' fill="#231f20" transform="rotate(-90 82.66 487.70)">AP1G1 g1</text>
<line x1="90.00" y1="350.60" x2="90.00" y2="348.60" stroke="#111" stroke-width="0.9"/>
<line x1="88.00" y1="348.60" x2="92.00" y2="348.60" stroke="#111" stroke-width="0.9"/>
<rect x="87.10" y="351.00" width="5.80" height="126.80" fill="#000000" stroke="#141414" stroke-width="0.8"/>
<text x="92.60" y="487.70" font-size="8.15" text-anchor="end" font-weight="normal" font-family='"Liberation Sans", sans-serif' fill="#231f20" transform="rotate(-90 92.60 487.70)">AP1G1 g2</text>
<line x1="99.94" y1="350.90" x2="99.94" y2="349.00" stroke="#111" stroke-width="0.9"/>
<line x1="97.94" y1="349.00" x2="101.94" y2="349.00" stroke="#111" stroke-width="0.9"/>
<rect x="97.04" y="351.30" width="5.80" height="126.50" fill="#000000" stroke="#141414" stroke-width="0.8"/>
<text x="102.54" y="487.70" font-size="8.15" text-anchor="end" font-weight="normal" font-family='"Liberation Sans", sans-serif' fill="#231f20" transform="rotate(-90 102.54 487.70)">AP1B1 g1</text>
<line x1="109.88" y1="346.00" x2="109.88" y2="340.00" stroke="#111" stroke-width="0.9"/>
<line x1="107.88" y1="340.00" x2="111.88" y2="340.00" stroke="#111" stroke-width="0.9"/>
<rect x="106.98" y="346.40" width="5.80" height="131.40" fill="#000000" stroke="#141414" stroke-width="0.8"/>
<text x="112.48" y="487.70" font-size="8.15" text-anchor="end" font-weight="normal" font-family='"Liberation Sans", sans-serif' fill="#231f20" transform="rotate(-90 112.48 487.70)">AP1B1 g2</text>
<line x1="119.82" y1="358.20" x2="119.82" y2="356.30" stroke="#111" stroke-width="0.9"/>
<line x1="117.82" y1="356.30" x2="121.82" y2="356.30" stroke="#111" stroke-width="0.9"/>
<rect x="116.92" y="358.60" width="5.80" height="119.20" fill="#000000" stroke="#141414" stroke-width="0.8"/>
<text x="122.42" y="487.70" font-size="8.15" text-anchor="end" font-weight="normal" font-family='"Liberation Sans", sans-serif' fill="#231f20" transform="rotate(-90 122.42 487.70)">AAGAB g1</text>
<line x1="129.76" y1="347.30" x2="129.76" y2="345.00" stroke="#111" stroke-width="0.9"/>
<line x1="127.76" y1="345.00" x2="131.76" y2="345.00" stroke="#111" stroke-width="0.9"/>
<rect x="126.86" y="347.70" width="5.80" height="130.10" fill="#000000" stroke="#141414" stroke-width="0.8"/>
<text x="132.36" y="487.70" font-size="8.15" text-anchor="end" font-weight="normal" font-family='"Liberation Sans", sans-serif' fill="#231f20" transform="rotate(-90 132.36 487.70)">AAGAB g2</text>
<line x1="139.70" y1="341.10" x2="139.70" y2="336.30" stroke="#111" stroke-width="0.9"/>
<line x1="137.70" y1="336.30" x2="141.70" y2="336.30" stroke="#111" stroke-width="0.9"/>
<rect x="136.80" y="341.50" width="5.80" height="136.30" fill="#000000" stroke="#141414" stroke-width="0.8"/>
<text x="142.30" y="487.70" font-size="8.15" text-anchor="end" font-weight="normal" font-family='"Liberation Sans", sans-serif' fill="#231f20" transform="rotate(-90 142.30 487.70)">EP300 g1</text>
<line x1="149.64" y1="337.00" x2="149.64" y2="333.00" stroke="#111" stroke-width="0.9"/>
<line x1="147.64" y1="333.00" x2="151.64" y2="333.00" stroke="#111" stroke-width="0.9"/>
<rect x="146.74" y="337.40" width="5.80" height="140.40" fill="#000000" stroke="#141414" stroke-width="0.8"/>
<text x="152.24" y="487.70" font-size="8.15" text-anchor="end" font-weight="normal" font-family='"Liberation Sans", sans-serif' fill="#231f20" transform="rotate(-90 152.24 487.70)">EP300 g2</text>
<line x1="159.58" y1="340.50" x2="159.58" y2="337.00" stroke="#111" stroke-width="0.9"/>
<line x1="157.58" y1="337.00" x2="161.58" y2="337.00" stroke="#111" stroke-width="0.9"/>
<rect x="156.68" y="340.90" width="5.80" height="136.90" fill="#000000" stroke="#141414" stroke-width="0.8"/>
<text x="162.18" y="487.70" font-size="8.15" text-anchor="end" font-weight="normal" font-family='"Liberation Sans", sans-serif' fill="#231f20" transform="rotate(-90 162.18 487.70)">KMT2C g1</text>
<line x1="169.52" y1="340.00" x2="169.52" y2="338.00" stroke="#111" stroke-width="0.9"/>
<line x1="167.52" y1="338.00" x2="171.52" y2="338.00" stroke="#111" stroke-width="0.9"/>
<rect x="166.62" y="340.40" width="5.80" height="137.40" fill="#000000" stroke="#141414" stroke-width="0.8"/>
<text x="172.12" y="487.70" font-size="8.15" text-anchor="end" font-weight="normal" font-family='"Liberation Sans", sans-serif' fill="#231f20" transform="rotate(-90 172.12 487.70)">KMT2C g2</text>
<line x1="179.46" y1="324.90" x2="179.46" y2="319.30" stroke="#111" stroke-width="0.9"/>
<line x1="177.46" y1="319.30" x2="181.46" y2="319.30" stroke="#111" stroke-width="0.9"/>
<rect x="176.56" y="325.30" width="5.80" height="152.50" fill="#000000" stroke="#141414" stroke-width="0.8"/>
<text x="182.06" y="487.70" font-size="8.15" text-anchor="end" font-weight="normal" font-family='"Liberation Sans", sans-serif' fill="#231f20" transform="rotate(-90 182.06 487.70)">ATP8B1 g1</text>
<line x1="189.40" y1="315.10" x2="189.40" y2="312.80" stroke="#111" stroke-width="0.9"/>
<line x1="187.40" y1="312.80" x2="191.40" y2="312.80" stroke="#111" stroke-width="0.9"/>
<rect x="186.50" y="315.50" width="5.80" height="162.30" fill="#000000" stroke="#141414" stroke-width="0.8"/>
<text x="192.00" y="487.70" font-size="8.15" text-anchor="end" font-weight="normal" font-family='"Liberation Sans", sans-serif' fill="#231f20" transform="rotate(-90 192.00 487.70)">ATP8B1 g2</text>
<g fill="rgba(128,128,128,0.3)" stroke="#6e6e6e" stroke-width="0.95"><circle cx="38.10" cy="341.40" r="1.4"/><circle cx="39.20" cy="341.40" r="1.4"/><circle cx="40.30" cy="341.40" r="1.4"/><circle cx="41.40" cy="341.40" r="1.4"/><circle cx="42.50" cy="341.40" r="1.4"/><circle cx="50.40" cy="335.50" r="1.4"/><circle cx="48.40" cy="338.50" r="1.4"/><circle cx="52.20" cy="339.50" r="1.4"/><circle cx="49.20" cy="340.50" r="1.4"/><circle cx="51.40" cy="340.80" r="1.4"/><circle cx="60.00" cy="337.70" r="1.4"/><circle cx="58.20" cy="340.80" r="1.4"/><circle cx="62.00" cy="341.00" r="1.4"/><circle cx="60.00" cy="345.00" r="1.4"/><circle cx="72.10" cy="337.40" r="1.4"/><circle cx="68.00" cy="340.00" r="1.4"/><circle cx="71.00" cy="340.00" r="1.4"/><circle cx="70.00" cy="345.00" r="1.4"/><circle cx="73.00" cy="342.30" r="1.4"/><circle cx="80.10" cy="348.30" r="1.4"/><circle cx="78.60" cy="351.30" r="1.4"/><circle cx="81.60" cy="351.60" r="1.4"/><circle cx="77.80" cy="353.60" r="1.4"/><circle cx="82.70" cy="352.80" r="1.4"/><circle cx="88.70" cy="346.50" r="1.4"/><circle cx="91.70" cy="345.00" r="1.4"/><circle cx="88.10" cy="355.80" r="1.4"/><circle cx="91.70" cy="355.10" r="1.4"/><circle cx="89.90" cy="349.80" r="1.4"/><circle cx="98.20" cy="348.00" r="1.4"/><circle cx="100.50" cy="348.60" r="1.4"/><circle cx="102.30" cy="349.10" r="1.4"/><circle cx="99.70" cy="355.10" r="1.4"/><circle cx="109.80" cy="334.40" r="1.4"/><circle cx="109.80" cy="353.60" r="1.4"/><circle cx="109.80" cy="358.10" r="1.4"/><circle cx="117.80" cy="356.20" r="1.4"/><circle cx="120.10" cy="353.60" r="1.4"/><circle cx="121.90" cy="357.10" r="1.4"/><circle cx="118.60" cy="358.20" r="1.4"/><circle cx="129.60" cy="342.60" r="1.4"/><circle cx="129.60" cy="345.30" r="1.4"/><circle cx="129.60" cy="349.10" r="1.4"/><circle cx="129.60" cy="352.10" r="1.4"/><circle cx="139.70" cy="332.20" r="1.4"/><circle cx="137.50" cy="339.60" r="1.4"/><circle cx="142.00" cy="340.00" r="1.4"/><circle cx="139.70" cy="350.60" r="1.4"/><circle cx="149.90" cy="329.90" r="1.4"/><circle cx="149.90" cy="337.80" r="1.4"/><circle cx="149.90" cy="346.50" r="1.4"/><circle cx="157.60" cy="336.00" r="1.4"/><circle cx="162.10" cy="335.00" r="1.4"/><circle cx="157.60" cy="347.10" r="1.4"/><circle cx="162.10" cy="345.60" r="1.4"/><circle cx="167.70" cy="337.80" r="1.4"/><circle cx="171.50" cy="337.50" r="1.4"/><circle cx="170.00" cy="344.60" r="1.4"/><circle cx="172.20" cy="340.00" r="1.4"/><circle cx="179.30" cy="316.90" r="1.4"/><circle cx="179.30" cy="323.40" r="1.4"/><circle cx="179.30" cy="335.50" r="1.4"/><circle cx="189.90" cy="312.10" r="1.4"/><circle cx="189.90" cy="318.40" r="1.4"/></g>
<text x="114.70" y="301.10" font-size="8.15" text-anchor="middle" font-weight="normal" font-family='"Liberation Sans", sans-serif' fill="#231f20">Influenza A virus (NLuc)</text>
<text x="6.00" y="393.60" font-size="8.15" text-anchor="middle" font-weight="normal" font-family='"Liberation Sans", sans-serif' fill="#231f20" transform="rotate(-90 6.00 393.60)">Relative infection efficiency</text>
<text x="-1.20" y="295.60" font-size="10.5" text-anchor="start" font-weight="bold" font-family='"Liberation Sans", sans-serif' fill="#000">b</text>
<g fill="#111"><polygon points="119.80,326.75 120.30,328.01 121.65,328.10 120.61,328.96 120.95,330.28 119.80,329.55 118.65,330.28 118.99,328.96 117.95,328.10 119.30,328.01"/></g>
<g fill="#111"><polygon points="175.00,307.05 175.50,308.31 176.85,308.40 175.81,309.26 176.15,310.58 175.00,309.85 173.85,310.58 174.19,309.26 173.15,308.40 174.50,308.31"/><polygon points="179.30,307.05 179.80,308.31 181.15,308.40 180.11,309.26 180.45,310.58 179.30,309.85 178.15,310.58 178.49,309.26 177.45,308.40 178.80,308.31"/><polygon points="183.60,307.05 184.10,308.31 185.45,308.40 184.41,309.26 184.75,310.58 183.60,309.85 182.45,310.58 182.79,309.26 181.75,308.40 183.10,308.31"/></g>
<line x1="253.00" y1="361.60" x2="433.50" y2="361.60" stroke="#e63a1e" stroke-width="1.05" stroke-dasharray="1 1.05"/>
<line x1="253.00" y1="388.40" x2="433.50" y2="388.40" stroke="#e63a1e" stroke-width="1.05" stroke-dasharray="1 1.05"/>
<line x1="252.20" y1="308.70" x2="252.20" y2="478.10" stroke="#7a7a7a" stroke-width="0.9"/>
<line x1="247.60" y1="477.60" x2="252.20" y2="477.60" stroke="#7a7a7a" stroke-width="0.8"/>
<line x1="249.60" y1="457.07" x2="252.20" y2="457.07" stroke="#7a7a7a" stroke-width="0.8"/>
<line x1="249.60" y1="445.06" x2="252.20" y2="445.06" stroke="#7a7a7a" stroke-width="0.8"/>
<line x1="249.60" y1="436.54" x2="252.20" y2="436.54" stroke="#7a7a7a" stroke-width="0.8"/>
<line x1="249.60" y1="429.93" x2="252.20" y2="429.93" stroke="#7a7a7a" stroke-width="0.8"/>
<line x1="249.60" y1="424.53" x2="252.20" y2="424.53" stroke="#7a7a7a" stroke-width="0.8"/>
<line x1="249.60" y1="419.96" x2="252.20" y2="419.96" stroke="#7a7a7a" stroke-width="0.8"/>
<line x1="249.60" y1="416.01" x2="252.20" y2="416.01" stroke="#7a7a7a" stroke-width="0.8"/>
<line x1="249.60" y1="412.52" x2="252.20" y2="412.52" stroke="#7a7a7a" stroke-width="0.8"/>
<line x1="247.60" y1="409.40" x2="252.20" y2="409.40" stroke="#7a7a7a" stroke-width="0.8"/>
<line x1="249.60" y1="388.87" x2="252.20" y2="388.87" stroke="#7a7a7a" stroke-width="0.8"/>
<line x1="249.60" y1="376.86" x2="252.20" y2="376.86" stroke="#7a7a7a" stroke-width="0.8"/>
<line x1="249.60" y1="368.34" x2="252.20" y2="368.34" stroke="#7a7a7a" stroke-width="0.8"/>
<line x1="249.60" y1="361.73" x2="252.20" y2="361.73" stroke="#7a7a7a" stroke-width="0.8"/>
<line x1="249.60" y1="356.33" x2="252.20" y2="356.33" stroke="#7a7a7a" stroke-width="0.8"/>
<line x1="249.60" y1="351.76" x2="252.20" y2="351.76" stroke="#7a7a7a" stroke-width="0.8"/>
<line x1="249.60" y1="347.81" x2="252.20" y2="347.81" stroke="#7a7a7a" stroke-width="0.8"/>
<line x1="249.60" y1="344.32" x2="252.20" y2="344.32" stroke="#7a7a7a" stroke-width="0.8"/>
<line x1="247.60" y1="341.20" x2="252.20" y2="341.20" stroke="#7a7a7a" stroke-width="0.8"/>
<line x1="249.60" y1="320.67" x2="252.20" y2="320.67" stroke="#7a7a7a" stroke-width="0.8"/>
<line x1="249.60" y1="308.66" x2="252.20" y2="308.66" stroke="#7a7a7a" stroke-width="0.8"/>
<text x="243.20" y="344.50" font-size="8.15" text-anchor="end" font-weight="normal" font-family='"Liberation Sans", sans-serif' fill="#231f20">100</text>
<text x="243.20" y="412.70" font-size="8.15" text-anchor="end" font-weight="normal" font-family='"Liberation Sans", sans-serif' fill="#231f20">10</text>
<text x="243.20" y="480.90" font-size="8.15" text-anchor="end" font-weight="normal" font-family='"Liberation Sans", sans-serif' fill="#231f20">1</text>
<line x1="251.75" y1="477.60" x2="433.50" y2="477.60" stroke="#7a7a7a" stroke-width="0.9"/>
<line x1="259.30" y1="477.60" x2="259.30" y2="482.10" stroke="#7a7a7a" stroke-width="0.85"/>
<line x1="269.26" y1="477.60" x2="269.26" y2="482.10" stroke="#7a7a7a" stroke-width="0.85"/>
<line x1="279.23" y1="477.60" x2="279.23" y2="482.10" stroke="#7a7a7a" stroke-width="0.85"/>
<line x1="289.19" y1="477.60" x2="289.19" y2="482.10" stroke="#7a7a7a" stroke-width="0.85"/>
<line x1="299.16" y1="477.60" x2="299.16" y2="482.10" stroke="#7a7a7a" stroke-width="0.85"/>
<line x1="309.12" y1="477.60" x2="309.12" y2="482.10" stroke="#7a7a7a" stroke-width="0.85"/>
<line x1="319.09" y1="477.60" x2="319.09" y2="482.10" stroke="#7a7a7a" stroke-width="0.85"/>
<line x1="329.06" y1="477.60" x2="329.06" y2="482.10" stroke="#7a7a7a" stroke-width="0.85"/>
<line x1="339.02" y1="477.60" x2="339.02" y2="482.10" stroke="#7a7a7a" stroke-width="0.85"/>
<line x1="348.99" y1="477.60" x2="348.99" y2="482.10" stroke="#7a7a7a" stroke-width="0.85"/>
<line x1="358.95" y1="477.60" x2="358.95" y2="482.10" stroke="#7a7a7a" stroke-width="0.85"/>
<line x1="368.92" y1="477.60" x2="368.92" y2="482.10" stroke="#7a7a7a" stroke-width="0.85"/>
<line x1="378.88" y1="477.60" x2="378.88" y2="482.10" stroke="#7a7a7a" stroke-width="0.85"/>
<line x1="388.85" y1="477.60" x2="388.85" y2="482.10" stroke="#7a7a7a" stroke-width="0.85"/>
<line x1="398.81" y1="477.60" x2="398.81" y2="482.10" stroke="#7a7a7a" stroke-width="0.85"/>
<line x1="408.77" y1="477.60" x2="408.77" y2="482.10" stroke="#7a7a7a" stroke-width="0.85"/>
<line x1="418.74" y1="477.60" x2="418.74" y2="482.10" stroke="#7a7a7a" stroke-width="0.85"/>
<line x1="428.71" y1="477.60" x2="428.71" y2="482.10" stroke="#7a7a7a" stroke-width="0.85"/>
<rect x="256.40" y="341.70" width="5.80" height="135.90" fill="#c0c0c0" stroke="#141414" stroke-width="1.0"/>
<text x="261.90" y="486.90" font-size="8.15" text-anchor="end" font-weight="normal" font-family='"Liberation Sans", sans-serif' fill="#231f20" transform="rotate(-90 261.90 486.90)">CTRL g1</text>
<line x1="269.26" y1="337.80" x2="269.26" y2="334.40" stroke="#9a9a9a" stroke-width="1.15"/>
<line x1="267.26" y1="334.40" x2="271.26" y2="334.40" stroke="#9a9a9a" stroke-width="1.15"/>
<rect x="266.37" y="338.30" width="5.80" height="139.30" fill="#c0c0c0" stroke="#141414" stroke-width="1.0"/>
<text x="271.87" y="486.90" font-size="8.15" text-anchor="end" font-weight="normal" font-family='"Liberation Sans", sans-serif' fill="#231f20" transform="rotate(-90 271.87 486.90)">CTRL g2</text>
<line x1="279.23" y1="410.60" x2="279.23" y2="392.40" stroke="#9a9a9a" stroke-width="1.15"/>
<line x1="277.23" y1="392.40" x2="281.23" y2="392.40" stroke="#9a9a9a" stroke-width="1.15"/>
<rect x="276.33" y="411.10" width="5.80" height="66.50" fill="#6cf36c" stroke="#141414" stroke-width="1.0"/>
<text x="281.83" y="486.90" font-size="8.15" text-anchor="end" font-weight="normal" font-family='"Liberation Sans", sans-serif' fill="#231f20" transform="rotate(-90 281.83 486.90)">ACE2 g1</text>
<line x1="289.19" y1="412.50" x2="289.19" y2="392.40" stroke="#9a9a9a" stroke-width="1.15"/>
<line x1="287.19" y1="392.40" x2="291.19" y2="392.40" stroke="#9a9a9a" stroke-width="1.15"/>
<rect x="286.30" y="413.00" width="5.80" height="64.60" fill="#6cf36c" stroke="#141414" stroke-width="1.0"/>
<text x="291.80" y="486.90" font-size="8.15" text-anchor="end" font-weight="normal" font-family='"Liberation Sans", sans-serif' fill="#231f20" transform="rotate(-90 291.80 486.90)">ACE2 g2</text>
<line x1="299.16" y1="374.30" x2="299.16" y2="356.60" stroke="#9a9a9a" stroke-width="1.15"/>
<line x1="297.16" y1="356.60" x2="301.16" y2="356.60" stroke="#9a9a9a" stroke-width="1.15"/>
<rect x="296.26" y="374.80" width="5.80" height="102.80" fill="#000000" stroke="#141414" stroke-width="1.0"/>
<text x="301.76" y="486.90" font-size="8.15" text-anchor="end" font-weight="normal" font-family='"Liberation Sans", sans-serif' fill="#231f20" transform="rotate(-90 301.76 486.90)">AP1G1 g1</text>
<line x1="309.12" y1="377.00" x2="309.12" y2="371.00" stroke="#9a9a9a" stroke-width="1.15"/>
<line x1="307.12" y1="371.00" x2="311.12" y2="371.00" stroke="#9a9a9a" stroke-width="1.15"/>
<rect x="306.23" y="377.50" width="5.80" height="100.10" fill="#000000" stroke="#141414" stroke-width="1.0"/>
<text x="311.73" y="486.90" font-size="8.15" text-anchor="end" font-weight="normal" font-family='"Liberation Sans", sans-serif' fill="#231f20" transform="rotate(-90 311.73 486.90)">AP1G1 g2</text>
<line x1="319.09" y1="375.50" x2="319.09" y2="368.70" stroke="#9a9a9a" stroke-width="1.15"/>
<line x1="317.09" y1="368.70" x2="321.09" y2="368.70" stroke="#9a9a9a" stroke-width="1.15"/>
<rect x="316.19" y="376.00" width="5.80" height="101.60" fill="#000000" stroke="#141414" stroke-width="1.0"/>
<text x="321.69" y="486.90" font-size="8.15" text-anchor="end" font-weight="normal" font-family='"Liberation Sans", sans-serif' fill="#231f20" transform="rotate(-90 321.69 486.90)">AP1B1 g1</text>
<line x1="329.06" y1="380.40" x2="329.06" y2="365.00" stroke="#9a9a9a" stroke-width="1.15"/>
<line x1="327.06" y1="365.00" x2="331.06" y2="365.00" stroke="#9a9a9a" stroke-width="1.15"/>
<rect x="326.16" y="380.90" width="5.80" height="96.70" fill="#000000" stroke="#141414" stroke-width="1.0"/>
<text x="331.66" y="486.90" font-size="8.15" text-anchor="end" font-weight="normal" font-family='"Liberation Sans", sans-serif' fill="#231f20" transform="rotate(-90 331.66 486.90)">AP1B1 g2</text>
<line x1="339.02" y1="377.00" x2="339.02" y2="365.30" stroke="#9a9a9a" stroke-width="1.15"/>
<line x1="337.02" y1="365.30" x2="341.02" y2="365.30" stroke="#9a9a9a" stroke-width="1.15"/>
<rect x="336.12" y="377.50" width="5.80" height="100.10" fill="#000000" stroke="#141414" stroke-width="1.0"/>
<text x="341.62" y="486.90" font-size="8.15" text-anchor="end" font-weight="normal" font-family='"Liberation Sans", sans-serif' fill="#231f20" transform="rotate(-90 341.62 486.90)">AAGAB g1</text>
<line x1="348.99" y1="353.20" x2="348.99" y2="339.00" stroke="#9a9a9a" stroke-width="1.15"/>
<line x1="346.99" y1="339.00" x2="350.99" y2="339.00" stroke="#9a9a9a" stroke-width="1.15"/>
<rect x="346.09" y="353.70" width="5.80" height="123.90" fill="#000000" stroke="#141414" stroke-width="1.0"/>
<text x="351.59" y="486.90" font-size="8.15" text-anchor="end" font-weight="normal" font-family='"Liberation Sans", sans-serif' fill="#231f20" transform="rotate(-90 351.59 486.90)">AAGAB g2</text>
<line x1="358.95" y1="374.30" x2="358.95" y2="356.60" stroke="#9a9a9a" stroke-width="1.15"/>
<line x1="356.95" y1="356.60" x2="360.95" y2="356.60" stroke="#9a9a9a" stroke-width="1.15"/>
<rect x="356.05" y="374.80" width="5.80" height="102.80" fill="#000000" stroke="#141414" stroke-width="1.0"/>
<text x="361.55" y="486.90" font-size="8.15" text-anchor="end" font-weight="normal" font-family='"Liberation Sans", sans-serif' fill="#231f20" transform="rotate(-90 361.55 486.90)">EP300 g1</text>
<line x1="368.92" y1="382.30" x2="368.92" y2="365.70" stroke="#9a9a9a" stroke-width="1.15"/>
<line x1="366.92" y1="365.70" x2="370.92" y2="365.70" stroke="#9a9a9a" stroke-width="1.15"/>
<rect x="366.02" y="382.80" width="5.80" height="94.80" fill="#000000" stroke="#141414" stroke-width="1.0"/>
<text x="371.52" y="486.90" font-size="8.15" text-anchor="end" font-weight="normal" font-family='"Liberation Sans", sans-serif' fill="#231f20" transform="rotate(-90 371.52 486.90)">EP300 g2</text>
<line x1="378.88" y1="356.20" x2="378.88" y2="341.10" stroke="#9a9a9a" stroke-width="1.15"/>
<line x1="376.88" y1="341.10" x2="380.88" y2="341.10" stroke="#9a9a9a" stroke-width="1.15"/>
<rect x="375.98" y="356.70" width="5.80" height="120.90" fill="#000000" stroke="#141414" stroke-width="1.0"/>
<text x="381.48" y="486.90" font-size="8.15" text-anchor="end" font-weight="normal" font-family='"Liberation Sans", sans-serif' fill="#231f20" transform="rotate(-90 381.48 486.90)">KMT2C g1</text>
<line x1="388.85" y1="351.40" x2="388.85" y2="341.10" stroke="#9a9a9a" stroke-width="1.15"/>
<line x1="386.85" y1="341.10" x2="390.85" y2="341.10" stroke="#9a9a9a" stroke-width="1.15"/>
<rect x="385.95" y="351.90" width="5.80" height="125.70" fill="#000000" stroke="#141414" stroke-width="1.0"/>
<text x="391.45" y="486.90" font-size="8.15" text-anchor="end" font-weight="normal" font-family='"Liberation Sans", sans-serif' fill="#231f20" transform="rotate(-90 391.45 486.90)">KMT2C g2</text>
<line x1="398.81" y1="328.20" x2="398.81" y2="319.30" stroke="#9a9a9a" stroke-width="1.15"/>
<line x1="396.81" y1="319.30" x2="400.81" y2="319.30" stroke="#9a9a9a" stroke-width="1.15"/>
<rect x="395.91" y="328.70" width="5.80" height="148.90" fill="#000000" stroke="#141414" stroke-width="1.0"/>
<text x="401.41" y="486.90" font-size="8.15" text-anchor="end" font-weight="normal" font-family='"Liberation Sans", sans-serif' fill="#231f20" transform="rotate(-90 401.41 486.90)">ATP8B1 g1</text>
<line x1="408.77" y1="336.00" x2="408.77" y2="328.70" stroke="#9a9a9a" stroke-width="1.15"/>
<line x1="406.77" y1="328.70" x2="410.77" y2="328.70" stroke="#9a9a9a" stroke-width="1.15"/>
<rect x="405.88" y="336.50" width="5.80" height="141.10" fill="#000000" stroke="#141414" stroke-width="1.0"/>
<text x="411.38" y="486.90" font-size="8.15" text-anchor="end" font-weight="normal" font-family='"Liberation Sans", sans-serif' fill="#231f20" transform="rotate(-90 411.38 486.90)">ATP8B1 g2</text>
<line x1="418.74" y1="381.60" x2="418.74" y2="362.20" stroke="#9a9a9a" stroke-width="1.15"/>
<line x1="416.74" y1="362.20" x2="420.74" y2="362.20" stroke="#9a9a9a" stroke-width="1.15"/>
<rect x="415.84" y="382.10" width="5.80" height="95.50" fill="#0a8f4f" stroke="#141414" stroke-width="1.0"/>
<text x="421.34" y="486.90" font-size="8.15" text-anchor="end" font-weight="normal" font-family='"Liberation Sans", sans-serif' fill="#231f20" transform="rotate(-90 421.34 486.90)">TMPRSS2 g1</text>
<line x1="428.71" y1="355.60" x2="428.71" y2="336.30" stroke="#9a9a9a" stroke-width="1.15"/>
<line x1="426.71" y1="336.30" x2="430.71" y2="336.30" stroke="#9a9a9a" stroke-width="1.15"/>
<rect x="425.81" y="356.10" width="5.80" height="121.50" fill="#0a8f4f" stroke="#141414" stroke-width="1.0"/>
<text x="431.31" y="486.90" font-size="8.15" text-anchor="end" font-weight="normal" font-family='"Liberation Sans", sans-serif' fill="#231f20" transform="rotate(-90 431.31 486.90)">TMPRSS2 g2</text>
<g fill="rgba(128,128,128,0.3)" stroke="#6e6e6e" stroke-width="0.95"><circle cx="257.10" cy="341.20" r="1.4"/><circle cx="258.20" cy="341.20" r="1.4"/><circle cx="259.30" cy="341.20" r="1.4"/><circle cx="260.40" cy="341.20" r="1.4"/><circle cx="261.50" cy="341.20" r="1.4"/><circle cx="269.20" cy="331.70" r="1.4"/><circle cx="267.40" cy="337.00" r="1.4"/><circle cx="271.40" cy="337.00" r="1.4"/><circle cx="267.40" cy="341.10" r="1.4"/><circle cx="271.40" cy="341.10" r="1.4"/><circle cx="279.20" cy="392.60" r="1.4"/><circle cx="279.20" cy="397.90" r="1.4"/><circle cx="279.20" cy="439.90" r="1.4"/><circle cx="279.20" cy="471.50" r="1.4"/><circle cx="289.30" cy="392.60" r="1.4"/><circle cx="289.30" cy="397.90" r="1.4"/><circle cx="289.30" cy="439.90" r="1.4"/><circle cx="299.20" cy="355.80" r="1.4"/><circle cx="299.20" cy="395.40" r="1.4"/><circle cx="299.20" cy="418.90" r="1.4"/><circle cx="306.90" cy="371.60" r="1.4"/><circle cx="310.40" cy="370.90" r="1.4"/><circle cx="306.90" cy="383.90" r="1.4"/><circle cx="311.40" cy="382.10" r="1.4"/><circle cx="319.10" cy="369.90" r="1.4"/><circle cx="319.10" cy="375.10" r="1.4"/><circle cx="319.10" cy="383.90" r="1.4"/><circle cx="328.90" cy="366.40" r="1.4"/><circle cx="328.90" cy="371.60" r="1.4"/><circle cx="328.90" cy="389.10" r="1.4"/><circle cx="328.90" cy="404.90" r="1.4"/><circle cx="339.50" cy="366.40" r="1.4"/><circle cx="339.50" cy="375.10" r="1.4"/><circle cx="339.50" cy="394.40" r="1.4"/><circle cx="348.90" cy="339.40" r="1.4"/><circle cx="348.90" cy="354.10" r="1.4"/><circle cx="348.90" cy="378.60" r="1.4"/><circle cx="359.40" cy="356.90" r="1.4"/><circle cx="359.40" cy="362.90" r="1.4"/><circle cx="359.40" cy="389.10" r="1.4"/><circle cx="359.40" cy="398.90" r="1.4"/><circle cx="368.90" cy="365.30" r="1.4"/><circle cx="368.90" cy="375.10" r="1.4"/><circle cx="368.90" cy="393.30" r="1.4"/><circle cx="368.90" cy="418.90" r="1.4"/><circle cx="378.70" cy="341.80" r="1.4"/><circle cx="378.70" cy="354.10" r="1.4"/><circle cx="378.70" cy="387.40" r="1.4"/><circle cx="389.20" cy="341.80" r="1.4"/><circle cx="389.20" cy="347.10" r="1.4"/><circle cx="389.20" cy="350.60" r="1.4"/><circle cx="389.20" cy="375.80" r="1.4"/><circle cx="398.70" cy="320.80" r="1.4"/><circle cx="398.70" cy="325.40" r="1.4"/><circle cx="398.70" cy="329.60" r="1.4"/><circle cx="398.70" cy="345.30" r="1.4"/><circle cx="408.50" cy="329.60" r="1.4"/><circle cx="406.70" cy="333.80" r="1.4"/><circle cx="411.30" cy="333.80" r="1.4"/><circle cx="408.50" cy="348.80" r="1.4"/><circle cx="419.00" cy="357.60" r="1.4"/><circle cx="419.00" cy="373.40" r="1.4"/><circle cx="416.50" cy="413.70" r="1.4"/><circle cx="421.40" cy="413.00" r="1.4"/><circle cx="428.80" cy="331.30" r="1.4"/><circle cx="428.80" cy="352.30" r="1.4"/><circle cx="428.80" cy="377.90" r="1.4"/><circle cx="428.80" cy="400.30" r="1.4"/></g>
<text x="344.20" y="300.40" font-size="8.15" text-anchor="middle" font-weight="normal" font-family='"Liberation Sans", sans-serif' fill="#231f20">HCoV-NL63 (RT-qPCR)</text>
<text x="224.20" y="393.15" font-size="8.15" text-anchor="middle" font-weight="normal" font-family='"Liberation Sans", sans-serif' fill="#231f20" transform="rotate(-90 224.20 393.15)">Relative infection efficiency</text>
<text x="217.30" y="295.50" font-size="10" text-anchor="start" font-weight="bold" font-family='"Liberation Sans", sans-serif' fill="#000">c</text>
<g fill="#111"><polygon points="277.45,326.25 277.95,327.51 279.30,327.60 278.26,328.46 278.60,329.78 277.45,329.05 276.30,329.78 276.64,328.46 275.60,327.60 276.95,327.51"/><polygon points="281.75,326.25 282.25,327.51 283.60,327.60 282.56,328.46 282.90,329.78 281.75,329.05 280.60,329.78 280.94,328.46 279.90,327.60 281.25,327.51"/><polygon points="286.05,326.25 286.55,327.51 287.90,327.60 286.86,328.46 287.20,329.78 286.05,329.05 284.90,329.78 285.24,328.46 284.20,327.60 285.55,327.51"/><polygon points="290.35,326.25 290.85,327.51 292.20,327.60 291.16,328.46 291.50,329.78 290.35,329.05 289.20,329.78 289.54,328.46 288.50,327.60 289.85,327.51"/></g>
<line x1="276.70" y1="331.70" x2="291.80" y2="331.70" stroke="#555" stroke-width="0.9"/>
<g fill="#111"><polygon points="309.50,326.25 310.00,327.51 311.35,327.60 310.31,328.46 310.65,329.78 309.50,329.05 308.35,329.78 308.69,328.46 307.65,327.60 309.00,327.51"/><polygon points="313.80,326.25 314.30,327.51 315.65,327.60 314.61,328.46 314.95,329.78 313.80,329.05 312.65,329.78 312.99,328.46 311.95,327.60 313.30,327.51"/><polygon points="318.10,326.25 318.60,327.51 319.95,327.60 318.91,328.46 319.25,329.78 318.10,329.05 316.95,329.78 317.29,328.46 316.25,327.60 317.60,327.51"/></g>
<line x1="296.40" y1="331.70" x2="331.90" y2="331.70" stroke="#555" stroke-width="0.9"/>
<g fill="#111"><polygon points="336.75,326.25 337.25,327.51 338.60,327.60 337.56,328.46 337.90,329.78 336.75,329.05 335.60,329.78 335.94,328.46 334.90,327.60 336.25,327.51"/><polygon points="341.05,326.25 341.55,327.51 342.90,327.60 341.86,328.46 342.20,329.78 341.05,329.05 339.90,329.78 340.24,328.46 339.20,327.60 340.55,327.51"/></g>
<g fill="#111"><polygon points="359.80,326.25 360.30,327.51 361.65,327.60 360.61,328.46 360.95,329.78 359.80,329.05 358.65,329.78 358.99,328.46 357.95,327.60 359.30,327.51"/><polygon points="364.10,326.25 364.60,327.51 365.95,327.60 364.91,328.46 365.25,329.78 364.10,329.05 362.95,329.78 363.29,328.46 362.25,327.60 363.60,327.51"/><polygon points="368.40,326.25 368.90,327.51 370.25,327.60 369.21,328.46 369.55,329.78 368.40,329.05 367.25,329.78 367.59,328.46 366.55,327.60 367.90,327.51"/></g>
<line x1="356.90" y1="331.70" x2="371.70" y2="331.70" stroke="#555" stroke-width="0.9"/>
<g fill="#111"><polygon points="414.30,326.35 414.80,327.61 416.15,327.70 415.11,328.56 415.45,329.88 414.30,329.15 413.15,329.88 413.49,328.56 412.45,327.70 413.80,327.61"/><polygon points="418.60,326.35 419.10,327.61 420.45,327.70 419.41,328.56 419.75,329.88 418.60,329.15 417.45,329.88 417.79,328.56 416.75,327.70 418.10,327.61"/><polygon points="422.90,326.35 423.40,327.61 424.75,327.70 423.71,328.56 424.05,329.88 422.90,329.15 421.75,329.88 422.09,328.56 421.05,327.70 422.40,327.61"/></g>
<line x1="483.00" y1="362.50" x2="685.00" y2="362.50" stroke="#e63a1e" stroke-width="1.05" stroke-dasharray="1 1.05"/>
<line x1="483.00" y1="389.60" x2="685.00" y2="389.60" stroke="#e63a1e" stroke-width="1.05" stroke-dasharray="1 1.05"/>
<line x1="481.50" y1="301.30" x2="481.50" y2="478.40" stroke="#7a7a7a" stroke-width="0.9"/>
<line x1="476.90" y1="477.90" x2="481.50" y2="477.90" stroke="#7a7a7a" stroke-width="0.8"/>
<line x1="478.90" y1="457.49" x2="481.50" y2="457.49" stroke="#7a7a7a" stroke-width="0.8"/>
<line x1="478.90" y1="445.55" x2="481.50" y2="445.55" stroke="#7a7a7a" stroke-width="0.8"/>
<line x1="478.90" y1="437.08" x2="481.50" y2="437.08" stroke="#7a7a7a" stroke-width="0.8"/>
<line x1="478.90" y1="430.51" x2="481.50" y2="430.51" stroke="#7a7a7a" stroke-width="0.8"/>
<line x1="478.90" y1="425.14" x2="481.50" y2="425.14" stroke="#7a7a7a" stroke-width="0.8"/>
<line x1="478.90" y1="420.60" x2="481.50" y2="420.60" stroke="#7a7a7a" stroke-width="0.8"/>
<line x1="478.90" y1="416.67" x2="481.50" y2="416.67" stroke="#7a7a7a" stroke-width="0.8"/>
<line x1="478.90" y1="413.20" x2="481.50" y2="413.20" stroke="#7a7a7a" stroke-width="0.8"/>
<line x1="476.90" y1="410.10" x2="481.50" y2="410.10" stroke="#7a7a7a" stroke-width="0.8"/>
<line x1="478.90" y1="389.69" x2="481.50" y2="389.69" stroke="#7a7a7a" stroke-width="0.8"/>
<line x1="478.90" y1="377.75" x2="481.50" y2="377.75" stroke="#7a7a7a" stroke-width="0.8"/>
<line x1="478.90" y1="369.28" x2="481.50" y2="369.28" stroke="#7a7a7a" stroke-width="0.8"/>
<line x1="478.90" y1="362.71" x2="481.50" y2="362.71" stroke="#7a7a7a" stroke-width="0.8"/>
<line x1="478.90" y1="357.34" x2="481.50" y2="357.34" stroke="#7a7a7a" stroke-width="0.8"/>
<line x1="478.90" y1="352.80" x2="481.50" y2="352.80" stroke="#7a7a7a" stroke-width="0.8"/>
<line x1="478.90" y1="348.87" x2="481.50" y2="348.87" stroke="#7a7a7a" stroke-width="0.8"/>
<line x1="478.90" y1="345.40" x2="481.50" y2="345.40" stroke="#7a7a7a" stroke-width="0.8"/>
<line x1="476.90" y1="342.30" x2="481.50" y2="342.30" stroke="#7a7a7a" stroke-width="0.8"/>
<line x1="478.90" y1="321.89" x2="481.50" y2="321.89" stroke="#7a7a7a" stroke-width="0.8"/>
<line x1="478.90" y1="309.95" x2="481.50" y2="309.95" stroke="#7a7a7a" stroke-width="0.8"/>
<line x1="478.90" y1="301.48" x2="481.50" y2="301.48" stroke="#7a7a7a" stroke-width="0.8"/>
<text x="472.50" y="345.60" font-size="8.15" text-anchor="end" font-weight="normal" font-family='"Liberation Sans", sans-serif' fill="#231f20">100</text>
<text x="472.50" y="413.40" font-size="8.15" text-anchor="end" font-weight="normal" font-family='"Liberation Sans", sans-serif' fill="#231f20">10</text>
<text x="472.50" y="481.20" font-size="8.15" text-anchor="end" font-weight="normal" font-family='"Liberation Sans", sans-serif' fill="#231f20">1</text>
<line x1="481.05" y1="477.90" x2="685.00" y2="477.90" stroke="#7a7a7a" stroke-width="0.9"/>
<line x1="488.60" y1="477.90" x2="488.60" y2="482.40" stroke="#7a7a7a" stroke-width="0.85"/>
<line x1="498.58" y1="477.90" x2="498.58" y2="482.40" stroke="#7a7a7a" stroke-width="0.85"/>
<line x1="508.56" y1="477.90" x2="508.56" y2="482.40" stroke="#7a7a7a" stroke-width="0.85"/>
<line x1="518.54" y1="477.90" x2="518.54" y2="482.40" stroke="#7a7a7a" stroke-width="0.85"/>
<line x1="528.52" y1="477.90" x2="528.52" y2="482.40" stroke="#7a7a7a" stroke-width="0.85"/>
<line x1="538.50" y1="477.90" x2="538.50" y2="482.40" stroke="#7a7a7a" stroke-width="0.85"/>
<line x1="548.48" y1="477.90" x2="548.48" y2="482.40" stroke="#7a7a7a" stroke-width="0.85"/>
<line x1="558.46" y1="477.90" x2="558.46" y2="482.40" stroke="#7a7a7a" stroke-width="0.85"/>
<line x1="568.44" y1="477.90" x2="568.44" y2="482.40" stroke="#7a7a7a" stroke-width="0.85"/>
<line x1="578.42" y1="477.90" x2="578.42" y2="482.40" stroke="#7a7a7a" stroke-width="0.85"/>
<line x1="588.40" y1="477.90" x2="588.40" y2="482.40" stroke="#7a7a7a" stroke-width="0.85"/>
<line x1="598.38" y1="477.90" x2="598.38" y2="482.40" stroke="#7a7a7a" stroke-width="0.85"/>
<line x1="608.36" y1="477.90" x2="608.36" y2="482.40" stroke="#7a7a7a" stroke-width="0.85"/>
<line x1="618.34" y1="477.90" x2="618.34" y2="482.40" stroke="#7a7a7a" stroke-width="0.85"/>
<line x1="628.32" y1="477.90" x2="628.32" y2="482.40" stroke="#7a7a7a" stroke-width="0.85"/>
<line x1="638.30" y1="477.90" x2="638.30" y2="482.40" stroke="#7a7a7a" stroke-width="0.85"/>
<line x1="648.28" y1="477.90" x2="648.28" y2="482.40" stroke="#7a7a7a" stroke-width="0.85"/>
<line x1="658.26" y1="477.90" x2="658.26" y2="482.40" stroke="#7a7a7a" stroke-width="0.85"/>
<line x1="668.24" y1="477.90" x2="668.24" y2="482.40" stroke="#7a7a7a" stroke-width="0.85"/>
<line x1="678.22" y1="477.90" x2="678.22" y2="482.40" stroke="#7a7a7a" stroke-width="0.85"/>
<rect x="485.70" y="342.80" width="5.80" height="135.10" fill="#c0c0c0" stroke="#141414" stroke-width="1.0"/>
<text x="491.20" y="488.20" font-size="8.15" text-anchor="end" font-weight="normal" font-family='"Liberation Sans", sans-serif' fill="#231f20" transform="rotate(-90 491.20 488.20)">CTRL g1</text>
<line x1="498.58" y1="337.30" x2="498.58" y2="333.00" stroke="#8f8f8f" stroke-width="1.0"/>
<line x1="496.58" y1="333.00" x2="500.58" y2="333.00" stroke="#8f8f8f" stroke-width="1.0"/>
<rect x="495.68" y="337.80" width="5.80" height="140.10" fill="#c0c0c0" stroke="#141414" stroke-width="1.0"/>
<text x="501.18" y="488.20" font-size="8.15" text-anchor="end" font-weight="normal" font-family='"Liberation Sans", sans-serif' fill="#231f20" transform="rotate(-90 501.18 488.20)">CTRL g2</text>
<line x1="508.56" y1="348.20" x2="508.56" y2="336.10" stroke="#8f8f8f" stroke-width="1.0"/>
<line x1="506.56" y1="336.10" x2="510.56" y2="336.10" stroke="#8f8f8f" stroke-width="1.0"/>
<rect x="505.66" y="348.70" width="5.80" height="129.20" fill="#6cf36c" stroke="#141414" stroke-width="1.0"/>
<text x="511.16" y="488.20" font-size="8.15" text-anchor="end" font-weight="normal" font-family='"Liberation Sans", sans-serif' fill="#231f20" transform="rotate(-90 511.16 488.20)">ACE2 g1</text>
<line x1="518.54" y1="347.90" x2="518.54" y2="335.00" stroke="#8f8f8f" stroke-width="1.0"/>
<line x1="516.54" y1="335.00" x2="520.54" y2="335.00" stroke="#8f8f8f" stroke-width="1.0"/>
<rect x="515.64" y="348.40" width="5.80" height="129.50" fill="#6cf36c" stroke="#141414" stroke-width="1.0"/>
<text x="521.14" y="488.20" font-size="8.15" text-anchor="end" font-weight="normal" font-family='"Liberation Sans", sans-serif' fill="#231f20" transform="rotate(-90 521.14 488.20)">ACE2 g2</text>
<line x1="528.52" y1="384.90" x2="528.52" y2="369.00" stroke="#8f8f8f" stroke-width="1.0"/>
<line x1="526.52" y1="369.00" x2="530.52" y2="369.00" stroke="#8f8f8f" stroke-width="1.0"/>
<rect x="525.62" y="385.40" width="5.80" height="92.50" fill="#000000" stroke="#141414" stroke-width="1.0"/>
<text x="531.12" y="488.20" font-size="8.15" text-anchor="end" font-weight="normal" font-family='"Liberation Sans", sans-serif' fill="#231f20" transform="rotate(-90 531.12 488.20)">AP1G1 g1</text>
<line x1="538.50" y1="385.60" x2="538.50" y2="362.20" stroke="#8f8f8f" stroke-width="1.0"/>
<line x1="536.50" y1="362.20" x2="540.50" y2="362.20" stroke="#8f8f8f" stroke-width="1.0"/>
<rect x="535.60" y="386.10" width="5.80" height="91.80" fill="#000000" stroke="#141414" stroke-width="1.0"/>
<text x="541.10" y="488.20" font-size="8.15" text-anchor="end" font-weight="normal" font-family='"Liberation Sans", sans-serif' fill="#231f20" transform="rotate(-90 541.10 488.20)">AP1G1 g2</text>
<line x1="548.48" y1="392.00" x2="548.48" y2="371.30" stroke="#8f8f8f" stroke-width="1.0"/>
<line x1="546.48" y1="371.30" x2="550.48" y2="371.30" stroke="#8f8f8f" stroke-width="1.0"/>
<rect x="545.58" y="392.50" width="5.80" height="85.40" fill="#000000" stroke="#141414" stroke-width="1.0"/>
<text x="551.08" y="488.20" font-size="8.15" text-anchor="end" font-weight="normal" font-family='"Liberation Sans", sans-serif' fill="#231f20" transform="rotate(-90 551.08 488.20)">AP1B1 g1</text>
<line x1="558.46" y1="400.30" x2="558.46" y2="377.30" stroke="#8f8f8f" stroke-width="1.0"/>
<line x1="556.46" y1="377.30" x2="560.46" y2="377.30" stroke="#8f8f8f" stroke-width="1.0"/>
<rect x="555.56" y="400.80" width="5.80" height="77.10" fill="#000000" stroke="#141414" stroke-width="1.0"/>
<text x="561.06" y="488.20" font-size="8.15" text-anchor="end" font-weight="normal" font-family='"Liberation Sans", sans-serif' fill="#231f20" transform="rotate(-90 561.06 488.20)">AP1B1 g2</text>
<line x1="568.44" y1="387.10" x2="568.44" y2="371.30" stroke="#8f8f8f" stroke-width="1.0"/>
<line x1="566.44" y1="371.30" x2="570.44" y2="371.30" stroke="#8f8f8f" stroke-width="1.0"/>
<rect x="565.54" y="387.60" width="5.80" height="90.30" fill="#000000" stroke="#141414" stroke-width="1.0"/>
<text x="571.04" y="488.20" font-size="8.15" text-anchor="end" font-weight="normal" font-family='"Liberation Sans", sans-serif' fill="#231f20" transform="rotate(-90 571.04 488.20)">AAGAB g1</text>
<line x1="578.42" y1="370.20" x2="578.42" y2="361.50" stroke="#8f8f8f" stroke-width="1.0"/>
<line x1="576.42" y1="361.50" x2="580.42" y2="361.50" stroke="#8f8f8f" stroke-width="1.0"/>
<rect x="575.52" y="370.70" width="5.80" height="107.20" fill="#000000" stroke="#141414" stroke-width="1.0"/>
<text x="581.02" y="488.20" font-size="8.15" text-anchor="end" font-weight="normal" font-family='"Liberation Sans", sans-serif' fill="#231f20" transform="rotate(-90 581.02 488.20)">AAGAB g2</text>
<line x1="588.40" y1="377.80" x2="588.40" y2="364.50" stroke="#8f8f8f" stroke-width="1.0"/>
<line x1="586.40" y1="364.50" x2="590.40" y2="364.50" stroke="#8f8f8f" stroke-width="1.0"/>
<rect x="585.50" y="378.30" width="5.80" height="99.60" fill="#000000" stroke="#141414" stroke-width="1.0"/>
<text x="591.00" y="488.20" font-size="8.15" text-anchor="end" font-weight="normal" font-family='"Liberation Sans", sans-serif' fill="#231f20" transform="rotate(-90 591.00 488.20)">EP300 g1</text>
<line x1="598.38" y1="363.30" x2="598.38" y2="349.40" stroke="#8f8f8f" stroke-width="1.0"/>
<line x1="596.38" y1="349.40" x2="600.38" y2="349.40" stroke="#8f8f8f" stroke-width="1.0"/>
<rect x="595.48" y="363.80" width="5.80" height="114.10" fill="#000000" stroke="#141414" stroke-width="1.0"/>
<text x="600.98" y="488.20" font-size="8.15" text-anchor="end" font-weight="normal" font-family='"Liberation Sans", sans-serif' fill="#231f20" transform="rotate(-90 600.98 488.20)">EP300 g2</text>
<line x1="608.36" y1="330.20" x2="608.36" y2="315.80" stroke="#8f8f8f" stroke-width="1.0"/>
<line x1="606.36" y1="315.80" x2="610.36" y2="315.80" stroke="#8f8f8f" stroke-width="1.0"/>
<rect x="605.46" y="330.70" width="5.80" height="147.20" fill="#000000" stroke="#141414" stroke-width="1.0"/>
<text x="610.96" y="488.20" font-size="8.15" text-anchor="end" font-weight="normal" font-family='"Liberation Sans", sans-serif' fill="#231f20" transform="rotate(-90 610.96 488.20)">KMT2C g1</text>
<line x1="618.34" y1="324.20" x2="618.34" y2="315.80" stroke="#8f8f8f" stroke-width="1.0"/>
<line x1="616.34" y1="315.80" x2="620.34" y2="315.80" stroke="#8f8f8f" stroke-width="1.0"/>
<rect x="615.44" y="324.70" width="5.80" height="153.20" fill="#000000" stroke="#141414" stroke-width="1.0"/>
<text x="620.94" y="488.20" font-size="8.15" text-anchor="end" font-weight="normal" font-family='"Liberation Sans", sans-serif' fill="#231f20" transform="rotate(-90 620.94 488.20)">KMT2C g2</text>
<line x1="628.32" y1="350.10" x2="628.32" y2="338.80" stroke="#8f8f8f" stroke-width="1.0"/>
<line x1="626.32" y1="338.80" x2="630.32" y2="338.80" stroke="#8f8f8f" stroke-width="1.0"/>
<rect x="625.42" y="350.60" width="5.80" height="127.30" fill="#000000" stroke="#141414" stroke-width="1.0"/>
<text x="630.92" y="488.20" font-size="8.15" text-anchor="end" font-weight="normal" font-family='"Liberation Sans", sans-serif' fill="#231f20" transform="rotate(-90 630.92 488.20)">ATP8B1 g1</text>
<line x1="638.30" y1="347.90" x2="638.30" y2="333.50" stroke="#8f8f8f" stroke-width="1.0"/>
<line x1="636.30" y1="333.50" x2="640.30" y2="333.50" stroke="#8f8f8f" stroke-width="1.0"/>
<rect x="635.40" y="348.40" width="5.80" height="129.50" fill="#000000" stroke="#141414" stroke-width="1.0"/>
<text x="640.90" y="488.20" font-size="8.15" text-anchor="end" font-weight="normal" font-family='"Liberation Sans", sans-serif' fill="#231f20" transform="rotate(-90 640.90 488.20)">ATP8B1 g2</text>
<line x1="648.28" y1="466.40" x2="648.28" y2="465.50" stroke="#8f8f8f" stroke-width="1.0"/>
<line x1="646.28" y1="465.50" x2="650.28" y2="465.50" stroke="#8f8f8f" stroke-width="1.0"/>
<rect x="645.38" y="466.90" width="5.80" height="11.00" fill="#fd9a08" stroke="#141414" stroke-width="1.0"/>
<text x="650.88" y="488.20" font-size="8.15" text-anchor="end" font-weight="normal" font-family='"Liberation Sans", sans-serif' fill="#231f20" transform="rotate(-90 650.88 488.20)">ANPEP g1</text>
<line x1="658.26" y1="473.90" x2="658.26" y2="467.50" stroke="#8f8f8f" stroke-width="1.0"/>
<line x1="656.26" y1="467.50" x2="660.26" y2="467.50" stroke="#8f8f8f" stroke-width="1.0"/>
<rect x="655.36" y="474.40" width="5.80" height="3.50" fill="#fd9a08" stroke="#141414" stroke-width="1.0"/>
<text x="660.86" y="488.20" font-size="8.15" text-anchor="end" font-weight="normal" font-family='"Liberation Sans", sans-serif' fill="#231f20" transform="rotate(-90 660.86 488.20)">ANPEP g2</text>
<line x1="668.24" y1="434.00" x2="668.24" y2="417.70" stroke="#8f8f8f" stroke-width="1.0"/>
<line x1="666.24" y1="417.70" x2="670.24" y2="417.70" stroke="#8f8f8f" stroke-width="1.0"/>
<rect x="665.34" y="434.50" width="5.80" height="43.40" fill="#0a8f4f" stroke="#141414" stroke-width="1.0"/>
<text x="670.84" y="488.20" font-size="8.15" text-anchor="end" font-weight="normal" font-family='"Liberation Sans", sans-serif' fill="#231f20" transform="rotate(-90 670.84 488.20)">TMPRSS2 g1</text>
<line x1="678.22" y1="402.30" x2="678.22" y2="397.40" stroke="#8f8f8f" stroke-width="1.0"/>
<line x1="676.22" y1="397.40" x2="680.22" y2="397.40" stroke="#8f8f8f" stroke-width="1.0"/>
<rect x="675.32" y="402.80" width="5.80" height="75.10" fill="#0a8f4f" stroke="#141414" stroke-width="1.0"/>
<text x="680.82" y="488.20" font-size="8.15" text-anchor="end" font-weight="normal" font-family='"Liberation Sans", sans-serif' fill="#231f20" transform="rotate(-90 680.82 488.20)">TMPRSS2 g2</text>
<g fill="rgba(128,128,128,0.3)" stroke="#6e6e6e" stroke-width="0.95"><circle cx="486.40" cy="342.30" r="1.4"/><circle cx="487.50" cy="342.30" r="1.4"/><circle cx="488.60" cy="342.30" r="1.4"/><circle cx="489.70" cy="342.30" r="1.4"/><circle cx="490.80" cy="342.30" r="1.4"/><circle cx="496.90" cy="333.50" r="1.4"/><circle cx="499.60" cy="332.00" r="1.4"/><circle cx="500.70" cy="334.60" r="1.4"/><circle cx="498.40" cy="351.20" r="1.4"/><circle cx="508.50" cy="337.00" r="1.4"/><circle cx="508.50" cy="339.10" r="1.4"/><circle cx="508.50" cy="342.60" r="1.4"/><circle cx="508.50" cy="369.80" r="1.4"/><circle cx="518.50" cy="334.60" r="1.4"/><circle cx="518.50" cy="350.60" r="1.4"/><circle cx="518.50" cy="365.20" r="1.4"/><circle cx="525.80" cy="374.40" r="1.4"/><circle cx="530.50" cy="374.40" r="1.4"/><circle cx="528.30" cy="431.00" r="1.4"/><circle cx="538.40" cy="362.30" r="1.4"/><circle cx="538.40" cy="404.10" r="1.4"/><circle cx="538.40" cy="422.00" r="1.4"/><circle cx="548.00" cy="372.00" r="1.4"/><circle cx="544.80" cy="413.10" r="1.4"/><circle cx="550.20" cy="412.00" r="1.4"/><circle cx="558.00" cy="377.30" r="1.4"/><circle cx="558.00" cy="417.40" r="1.4"/><circle cx="558.00" cy="432.70" r="1.4"/><circle cx="568.40" cy="366.30" r="1.4"/><circle cx="568.40" cy="390.20" r="1.4"/><circle cx="568.40" cy="399.20" r="1.4"/><circle cx="568.40" cy="411.30" r="1.4"/><circle cx="578.30" cy="361.50" r="1.4"/><circle cx="578.30" cy="370.50" r="1.4"/><circle cx="578.30" cy="382.30" r="1.4"/><circle cx="588.40" cy="364.80" r="1.4"/><circle cx="586.50" cy="386.80" r="1.4"/><circle cx="590.40" cy="386.40" r="1.4"/><circle cx="598.20" cy="352.40" r="1.4"/><circle cx="598.20" cy="355.10" r="1.4"/><circle cx="598.20" cy="395.50" r="1.4"/><circle cx="608.40" cy="315.80" r="1.4"/><circle cx="608.40" cy="331.30" r="1.4"/><circle cx="608.40" cy="356.20" r="1.4"/><circle cx="618.20" cy="315.80" r="1.4"/><circle cx="618.20" cy="326.70" r="1.4"/><circle cx="618.20" cy="332.00" r="1.4"/><circle cx="628.10" cy="340.00" r="1.4"/><circle cx="626.60" cy="344.50" r="1.4"/><circle cx="630.30" cy="346.40" r="1.4"/><circle cx="628.10" cy="385.30" r="1.4"/><circle cx="638.30" cy="334.00" r="1.4"/><circle cx="638.30" cy="343.30" r="1.4"/><circle cx="638.30" cy="385.30" r="1.4"/><circle cx="646.20" cy="464.80" r="1.4"/><circle cx="648.00" cy="464.80" r="1.4"/><circle cx="649.80" cy="464.80" r="1.4"/><circle cx="658.20" cy="468.70" r="1.4"/><circle cx="658.20" cy="474.30" r="1.4"/><circle cx="668.40" cy="412.80" r="1.4"/><circle cx="666.10" cy="442.20" r="1.4"/><circle cx="670.20" cy="442.20" r="1.4"/><circle cx="668.40" cy="450.60" r="1.4"/><circle cx="677.90" cy="393.50" r="1.4"/><circle cx="677.90" cy="396.20" r="1.4"/><circle cx="675.60" cy="410.50" r="1.4"/><circle cx="680.20" cy="410.50" r="1.4"/></g>
<text x="583.00" y="300.30" font-size="8.15" text-anchor="middle" font-weight="normal" font-family='"Liberation Sans", sans-serif' fill="#231f20">HCoV-229E (Renilla)</text>
<text x="453.40" y="389.60" font-size="8.15" text-anchor="middle" font-weight="normal" font-family='"Liberation Sans", sans-serif' fill="#231f20" transform="rotate(-90 453.40 389.60)">Relative infection efficiency</text>
<text x="445.20" y="295.60" font-size="10.5" text-anchor="start" font-weight="bold" font-family='"Liberation Sans", sans-serif' fill="#000">d</text>
<g fill="#111"><polygon points="545.35,325.95 545.85,327.21 547.20,327.30 546.16,328.16 546.50,329.48 545.35,328.75 544.20,329.48 544.54,328.16 543.50,327.30 544.85,327.21"/><polygon points="549.65,325.95 550.15,327.21 551.50,327.30 550.46,328.16 550.80,329.48 549.65,328.75 548.50,329.48 548.84,328.16 547.80,327.30 549.15,327.21"/></g>
<line x1="525.30" y1="331.30" x2="570.90" y2="331.30" stroke="#555" stroke-width="0.9"/>
<g fill="#111"><polygon points="577.20,325.95 577.70,327.21 579.05,327.30 578.01,328.16 578.35,329.48 577.20,328.75 576.05,329.48 576.39,328.16 575.35,327.30 576.70,327.21"/><polygon points="581.50,325.95 582.00,327.21 583.35,327.30 582.31,328.16 582.65,329.48 581.50,328.75 580.35,329.48 580.69,328.16 579.65,327.30 581.00,327.21"/><polygon points="585.80,325.95 586.30,327.21 587.65,327.30 586.61,328.16 586.95,329.48 585.80,328.75 584.65,329.48 584.99,328.16 583.95,327.30 585.30,327.21"/></g>
<g fill="#111"><polygon points="649.20,326.05 649.70,327.31 651.05,327.40 650.01,328.26 650.35,329.58 649.20,328.85 648.05,329.58 648.39,328.26 647.35,327.40 648.70,327.31"/><polygon points="653.50,326.05 654.00,327.31 655.35,327.40 654.31,328.26 654.65,329.58 653.50,328.85 652.35,329.58 652.69,328.26 651.65,327.40 653.00,327.31"/><polygon points="657.80,326.05 658.30,327.31 659.65,327.40 658.61,328.26 658.95,329.58 657.80,328.85 656.65,329.58 656.99,328.26 655.95,327.40 657.30,327.31"/></g>
<line x1="645.00" y1="331.20" x2="661.40" y2="331.20" stroke="#555" stroke-width="0.9"/>
<g fill="#111"><polygon points="673.50,326.35 674.00,327.61 675.35,327.70 674.31,328.56 674.65,329.88 673.50,329.15 672.35,329.88 672.69,328.56 671.65,327.70 673.00,327.61"/><polygon points="677.80,326.35 678.30,327.61 679.65,327.70 678.61,328.56 678.95,329.88 677.80,329.15 676.65,329.88 676.99,328.56 675.95,327.70 677.30,327.61"/><polygon points="682.10,326.35 682.60,327.61 683.95,327.70 682.91,328.56 683.25,329.88 682.10,329.15 680.95,329.88 681.29,328.56 680.25,327.70 681.60,327.61"/></g>
<g fill="#111"><polygon points="660.85,337.45 661.35,338.71 662.70,338.80 661.66,339.66 662.00,340.98 660.85,340.25 659.70,340.98 660.04,339.66 659.00,338.80 660.35,338.71"/><polygon points="665.15,337.45 665.65,338.71 667.00,338.80 665.96,339.66 666.30,340.98 665.15,340.25 664.00,340.98 664.34,339.66 663.30,338.80 664.65,338.71"/><polygon points="669.45,337.45 669.95,338.71 671.30,338.80 670.26,339.66 670.60,340.98 669.45,340.25 668.30,340.98 668.64,339.66 667.60,338.80 668.95,338.71"/><polygon points="673.75,337.45 674.25,338.71 675.60,338.80 674.56,339.66 674.90,340.98 673.75,340.25 672.60,340.98 672.94,339.66 671.90,338.80 673.25,338.71"/></g>
<line x1="126.00" y1="619.80" x2="327.70" y2="619.80" stroke="#e63a1e" stroke-width="1.05" stroke-dasharray="1 1.05"/>
<line x1="126.00" y1="646.70" x2="327.70" y2="646.70" stroke="#e63a1e" stroke-width="1.05" stroke-dasharray="1 1.05"/>
<line x1="124.80" y1="567.40" x2="124.80" y2="735.80" stroke="#7a7a7a" stroke-width="0.9"/>
<line x1="120.20" y1="735.30" x2="124.80" y2="735.30" stroke="#7a7a7a" stroke-width="0.8"/>
<line x1="122.20" y1="714.86" x2="124.80" y2="714.86" stroke="#7a7a7a" stroke-width="0.8"/>
<line x1="122.20" y1="702.90" x2="124.80" y2="702.90" stroke="#7a7a7a" stroke-width="0.8"/>
<line x1="122.20" y1="694.42" x2="124.80" y2="694.42" stroke="#7a7a7a" stroke-width="0.8"/>
<line x1="122.20" y1="687.84" x2="124.80" y2="687.84" stroke="#7a7a7a" stroke-width="0.8"/>
<line x1="122.20" y1="682.46" x2="124.80" y2="682.46" stroke="#7a7a7a" stroke-width="0.8"/>
<line x1="122.20" y1="677.92" x2="124.80" y2="677.92" stroke="#7a7a7a" stroke-width="0.8"/>
<line x1="122.20" y1="673.98" x2="124.80" y2="673.98" stroke="#7a7a7a" stroke-width="0.8"/>
<line x1="122.20" y1="670.51" x2="124.80" y2="670.51" stroke="#7a7a7a" stroke-width="0.8"/>
<line x1="120.20" y1="667.40" x2="124.80" y2="667.40" stroke="#7a7a7a" stroke-width="0.8"/>
<line x1="122.20" y1="646.96" x2="124.80" y2="646.96" stroke="#7a7a7a" stroke-width="0.8"/>
<line x1="122.20" y1="635.00" x2="124.80" y2="635.00" stroke="#7a7a7a" stroke-width="0.8"/>
<line x1="122.20" y1="626.52" x2="124.80" y2="626.52" stroke="#7a7a7a" stroke-width="0.8"/>
<line x1="122.20" y1="619.94" x2="124.80" y2="619.94" stroke="#7a7a7a" stroke-width="0.8"/>
<line x1="122.20" y1="614.56" x2="124.80" y2="614.56" stroke="#7a7a7a" stroke-width="0.8"/>
<line x1="122.20" y1="610.02" x2="124.80" y2="610.02" stroke="#7a7a7a" stroke-width="0.8"/>
<line x1="122.20" y1="606.08" x2="124.80" y2="606.08" stroke="#7a7a7a" stroke-width="0.8"/>
<line x1="122.20" y1="602.61" x2="124.80" y2="602.61" stroke="#7a7a7a" stroke-width="0.8"/>
<line x1="120.20" y1="599.50" x2="124.80" y2="599.50" stroke="#7a7a7a" stroke-width="0.8"/>
<line x1="122.20" y1="579.06" x2="124.80" y2="579.06" stroke="#7a7a7a" stroke-width="0.8"/>
<line x1="122.20" y1="567.10" x2="124.80" y2="567.10" stroke="#7a7a7a" stroke-width="0.8"/>
<text x="115.80" y="602.80" font-size="8.15" text-anchor="end" font-weight="normal" font-family='"Liberation Sans", sans-serif' fill="#231f20">100</text>
<text x="115.80" y="670.70" font-size="8.15" text-anchor="end" font-weight="normal" font-family='"Liberation Sans", sans-serif' fill="#231f20">10</text>
<text x="115.80" y="738.60" font-size="8.15" text-anchor="end" font-weight="normal" font-family='"Liberation Sans", sans-serif' fill="#231f20">1</text>
<line x1="124.35" y1="735.30" x2="327.70" y2="735.30" stroke="#7a7a7a" stroke-width="0.9"/>
<line x1="131.50" y1="735.30" x2="131.50" y2="739.80" stroke="#7a7a7a" stroke-width="0.85"/>
<line x1="141.49" y1="735.30" x2="141.49" y2="739.80" stroke="#7a7a7a" stroke-width="0.85"/>
<line x1="151.47" y1="735.30" x2="151.47" y2="739.80" stroke="#7a7a7a" stroke-width="0.85"/>
<line x1="161.45" y1="735.30" x2="161.45" y2="739.80" stroke="#7a7a7a" stroke-width="0.85"/>
<line x1="171.44" y1="735.30" x2="171.44" y2="739.80" stroke="#7a7a7a" stroke-width="0.85"/>
<line x1="181.43" y1="735.30" x2="181.43" y2="739.80" stroke="#7a7a7a" stroke-width="0.85"/>
<line x1="191.41" y1="735.30" x2="191.41" y2="739.80" stroke="#7a7a7a" stroke-width="0.85"/>
<line x1="201.39" y1="735.30" x2="201.39" y2="739.80" stroke="#7a7a7a" stroke-width="0.85"/>
<line x1="211.38" y1="735.30" x2="211.38" y2="739.80" stroke="#7a7a7a" stroke-width="0.85"/>
<line x1="221.37" y1="735.30" x2="221.37" y2="739.80" stroke="#7a7a7a" stroke-width="0.85"/>
<line x1="231.35" y1="735.30" x2="231.35" y2="739.80" stroke="#7a7a7a" stroke-width="0.85"/>
<line x1="241.33" y1="735.30" x2="241.33" y2="739.80" stroke="#7a7a7a" stroke-width="0.85"/>
<line x1="251.32" y1="735.30" x2="251.32" y2="739.80" stroke="#7a7a7a" stroke-width="0.85"/>
<line x1="261.31" y1="735.30" x2="261.31" y2="739.80" stroke="#7a7a7a" stroke-width="0.85"/>
<line x1="271.29" y1="735.30" x2="271.29" y2="739.80" stroke="#7a7a7a" stroke-width="0.85"/>
<line x1="281.27" y1="735.30" x2="281.27" y2="739.80" stroke="#7a7a7a" stroke-width="0.85"/>
<line x1="291.26" y1="735.30" x2="291.26" y2="739.80" stroke="#7a7a7a" stroke-width="0.85"/>
<line x1="301.25" y1="735.30" x2="301.25" y2="739.80" stroke="#7a7a7a" stroke-width="0.85"/>
<line x1="311.23" y1="735.30" x2="311.23" y2="739.80" stroke="#7a7a7a" stroke-width="0.85"/>
<line x1="321.21" y1="735.30" x2="321.21" y2="739.80" stroke="#7a7a7a" stroke-width="0.85"/>
<rect x="128.60" y="600.00" width="5.80" height="135.30" fill="#c0c0c0" stroke="#141414" stroke-width="1.0"/>
<text x="134.10" y="745.20" font-size="8.15" text-anchor="end" font-weight="normal" font-family='"Liberation Sans", sans-serif' fill="#231f20" transform="rotate(-90 134.10 745.20)">CTRL g1</text>
<line x1="141.49" y1="598.70" x2="141.49" y2="597.00" stroke="#5a5a5a" stroke-width="0.9"/>
<line x1="139.49" y1="597.00" x2="143.49" y2="597.00" stroke="#5a5a5a" stroke-width="0.9"/>
<rect x="138.59" y="599.20" width="5.80" height="136.10" fill="#c0c0c0" stroke="#141414" stroke-width="1.0"/>
<text x="144.09" y="745.20" font-size="8.15" text-anchor="end" font-weight="normal" font-family='"Liberation Sans", sans-serif' fill="#231f20" transform="rotate(-90 144.09 745.20)">CTRL g2</text>
<line x1="151.47" y1="599.20" x2="151.47" y2="596.00" stroke="#5a5a5a" stroke-width="0.9"/>
<line x1="149.47" y1="596.00" x2="153.47" y2="596.00" stroke="#5a5a5a" stroke-width="0.9"/>
<rect x="148.57" y="599.70" width="5.80" height="135.60" fill="#6cf36c" stroke="#141414" stroke-width="1.0"/>
<text x="154.07" y="745.20" font-size="8.15" text-anchor="end" font-weight="normal" font-family='"Liberation Sans", sans-serif' fill="#231f20" transform="rotate(-90 154.07 745.20)">ACE2 g1</text>
<line x1="161.45" y1="601.00" x2="161.45" y2="598.00" stroke="#5a5a5a" stroke-width="0.9"/>
<line x1="159.45" y1="598.00" x2="163.45" y2="598.00" stroke="#5a5a5a" stroke-width="0.9"/>
<rect x="158.55" y="601.50" width="5.80" height="133.80" fill="#6cf36c" stroke="#141414" stroke-width="1.0"/>
<text x="164.05" y="745.20" font-size="8.15" text-anchor="end" font-weight="normal" font-family='"Liberation Sans", sans-serif' fill="#231f20" transform="rotate(-90 164.05 745.20)">ACE2 g2</text>
<line x1="171.44" y1="643.30" x2="171.44" y2="636.50" stroke="#5a5a5a" stroke-width="0.9"/>
<line x1="169.44" y1="636.50" x2="173.44" y2="636.50" stroke="#5a5a5a" stroke-width="0.9"/>
<rect x="168.54" y="643.80" width="5.80" height="91.50" fill="#000000" stroke="#141414" stroke-width="1.0"/>
<text x="174.04" y="745.20" font-size="8.15" text-anchor="end" font-weight="normal" font-family='"Liberation Sans", sans-serif' fill="#231f20" transform="rotate(-90 174.04 745.20)">AP1G1 g1</text>
<line x1="181.43" y1="643.70" x2="181.43" y2="638.70" stroke="#5a5a5a" stroke-width="0.9"/>
<line x1="179.43" y1="638.70" x2="183.43" y2="638.70" stroke="#5a5a5a" stroke-width="0.9"/>
<rect x="178.53" y="644.20" width="5.80" height="91.10" fill="#000000" stroke="#141414" stroke-width="1.0"/>
<text x="184.03" y="745.20" font-size="8.15" text-anchor="end" font-weight="normal" font-family='"Liberation Sans", sans-serif' fill="#231f20" transform="rotate(-90 184.03 745.20)">AP1G1 g2</text>
<line x1="191.41" y1="634.70" x2="191.41" y2="623.20" stroke="#5a5a5a" stroke-width="0.9"/>
<line x1="189.41" y1="623.20" x2="193.41" y2="623.20" stroke="#5a5a5a" stroke-width="0.9"/>
<rect x="188.51" y="635.20" width="5.80" height="100.10" fill="#000000" stroke="#141414" stroke-width="1.0"/>
<text x="194.01" y="745.20" font-size="8.15" text-anchor="end" font-weight="normal" font-family='"Liberation Sans", sans-serif' fill="#231f20" transform="rotate(-90 194.01 745.20)">AP1B1 g1</text>
<line x1="201.39" y1="611.10" x2="201.39" y2="605.50" stroke="#5a5a5a" stroke-width="0.9"/>
<line x1="199.39" y1="605.50" x2="203.39" y2="605.50" stroke="#5a5a5a" stroke-width="0.9"/>
<rect x="198.49" y="611.60" width="5.80" height="123.70" fill="#000000" stroke="#141414" stroke-width="1.0"/>
<text x="203.99" y="745.20" font-size="8.15" text-anchor="end" font-weight="normal" font-family='"Liberation Sans", sans-serif' fill="#231f20" transform="rotate(-90 203.99 745.20)">AP1B1 g2</text>
<line x1="211.38" y1="635.00" x2="211.38" y2="633.50" stroke="#5a5a5a" stroke-width="0.9"/>
<line x1="209.38" y1="633.50" x2="213.38" y2="633.50" stroke="#5a5a5a" stroke-width="0.9"/>
<rect x="208.48" y="635.50" width="5.80" height="99.80" fill="#000000" stroke="#141414" stroke-width="1.0"/>
<text x="213.98" y="745.20" font-size="8.15" text-anchor="end" font-weight="normal" font-family='"Liberation Sans", sans-serif' fill="#231f20" transform="rotate(-90 213.98 745.20)">AAGAB g1</text>
<line x1="221.37" y1="611.10" x2="221.37" y2="607.00" stroke="#5a5a5a" stroke-width="0.9"/>
<line x1="219.37" y1="607.00" x2="223.37" y2="607.00" stroke="#5a5a5a" stroke-width="0.9"/>
<rect x="218.47" y="611.60" width="5.80" height="123.70" fill="#000000" stroke="#141414" stroke-width="1.0"/>
<text x="223.97" y="745.20" font-size="8.15" text-anchor="end" font-weight="normal" font-family='"Liberation Sans", sans-serif' fill="#231f20" transform="rotate(-90 223.97 745.20)">AAGAB g2</text>
<line x1="231.35" y1="607.80" x2="231.35" y2="598.70" stroke="#5a5a5a" stroke-width="0.9"/>
<line x1="229.35" y1="598.70" x2="233.35" y2="598.70" stroke="#5a5a5a" stroke-width="0.9"/>
<rect x="228.45" y="608.30" width="5.80" height="127.00" fill="#000000" stroke="#141414" stroke-width="1.0"/>
<text x="233.95" y="745.20" font-size="8.15" text-anchor="end" font-weight="normal" font-family='"Liberation Sans", sans-serif' fill="#231f20" transform="rotate(-90 233.95 745.20)">EP300 g1</text>
<line x1="241.33" y1="606.30" x2="241.33" y2="594.90" stroke="#5a5a5a" stroke-width="0.9"/>
<line x1="239.33" y1="594.90" x2="243.33" y2="594.90" stroke="#5a5a5a" stroke-width="0.9"/>
<rect x="238.43" y="606.80" width="5.80" height="128.50" fill="#000000" stroke="#141414" stroke-width="1.0"/>
<text x="243.93" y="745.20" font-size="8.15" text-anchor="end" font-weight="normal" font-family='"Liberation Sans", sans-serif' fill="#231f20" transform="rotate(-90 243.93 745.20)">EP300 g2</text>
<line x1="251.32" y1="611.10" x2="251.32" y2="603.50" stroke="#5a5a5a" stroke-width="0.9"/>
<line x1="249.32" y1="603.50" x2="253.32" y2="603.50" stroke="#5a5a5a" stroke-width="0.9"/>
<rect x="248.42" y="611.60" width="5.80" height="123.70" fill="#000000" stroke="#141414" stroke-width="1.0"/>
<text x="253.92" y="745.20" font-size="8.15" text-anchor="end" font-weight="normal" font-family='"Liberation Sans", sans-serif' fill="#231f20" transform="rotate(-90 253.92 745.20)">KMT2C g1</text>
<line x1="261.31" y1="613.00" x2="261.31" y2="602.50" stroke="#5a5a5a" stroke-width="0.9"/>
<line x1="259.31" y1="602.50" x2="263.31" y2="602.50" stroke="#5a5a5a" stroke-width="0.9"/>
<rect x="258.41" y="613.50" width="5.80" height="121.80" fill="#000000" stroke="#141414" stroke-width="1.0"/>
<text x="263.91" y="745.20" font-size="8.15" text-anchor="end" font-weight="normal" font-family='"Liberation Sans", sans-serif' fill="#231f20" transform="rotate(-90 263.91 745.20)">KMT2C g2</text>
<rect x="268.39" y="605.20" width="5.80" height="130.10" fill="#000000" stroke="#141414" stroke-width="1.0"/>
<text x="273.89" y="745.20" font-size="8.15" text-anchor="end" font-weight="normal" font-family='"Liberation Sans", sans-serif' fill="#231f20" transform="rotate(-90 273.89 745.20)">ATP8B1 g1</text>
<line x1="281.27" y1="608.50" x2="281.27" y2="601.70" stroke="#5a5a5a" stroke-width="0.9"/>
<line x1="279.27" y1="601.70" x2="283.27" y2="601.70" stroke="#5a5a5a" stroke-width="0.9"/>
<rect x="278.38" y="609.00" width="5.80" height="126.30" fill="#000000" stroke="#141414" stroke-width="1.0"/>
<text x="283.88" y="745.20" font-size="8.15" text-anchor="end" font-weight="normal" font-family='"Liberation Sans", sans-serif' fill="#231f20" transform="rotate(-90 283.88 745.20)">ATP8B1 g2</text>
<line x1="291.26" y1="696.30" x2="291.26" y2="682.80" stroke="#5a5a5a" stroke-width="0.9"/>
<line x1="289.26" y1="682.80" x2="293.26" y2="682.80" stroke="#5a5a5a" stroke-width="0.9"/>
<rect x="288.36" y="696.80" width="5.80" height="38.50" fill="#fd9a08" stroke="#141414" stroke-width="1.0"/>
<text x="293.86" y="745.20" font-size="8.15" text-anchor="end" font-weight="normal" font-family='"Liberation Sans", sans-serif' fill="#231f20" transform="rotate(-90 293.86 745.20)">DPP4 g1</text>
<line x1="301.25" y1="697.50" x2="301.25" y2="685.00" stroke="#5a5a5a" stroke-width="0.9"/>
<line x1="299.25" y1="685.00" x2="303.25" y2="685.00" stroke="#5a5a5a" stroke-width="0.9"/>
<rect x="298.35" y="698.00" width="5.80" height="37.30" fill="#fd9a08" stroke="#141414" stroke-width="1.0"/>
<text x="303.85" y="745.20" font-size="8.15" text-anchor="end" font-weight="normal" font-family='"Liberation Sans", sans-serif' fill="#231f20" transform="rotate(-90 303.85 745.20)">DPP4 g2</text>
<line x1="311.23" y1="647.40" x2="311.23" y2="642.00" stroke="#5a5a5a" stroke-width="0.9"/>
<line x1="309.23" y1="642.00" x2="313.23" y2="642.00" stroke="#5a5a5a" stroke-width="0.9"/>
<rect x="308.33" y="647.90" width="5.80" height="87.40" fill="#0a8f4f" stroke="#141414" stroke-width="1.0"/>
<text x="313.83" y="745.20" font-size="8.15" text-anchor="end" font-weight="normal" font-family='"Liberation Sans", sans-serif' fill="#231f20" transform="rotate(-90 313.83 745.20)">TMPRSS2 g1</text>
<line x1="321.21" y1="622.10" x2="321.21" y2="617.50" stroke="#5a5a5a" stroke-width="0.9"/>
<line x1="319.21" y1="617.50" x2="323.21" y2="617.50" stroke="#5a5a5a" stroke-width="0.9"/>
<rect x="318.31" y="622.60" width="5.80" height="112.70" fill="#0a8f4f" stroke="#141414" stroke-width="1.0"/>
<text x="323.81" y="745.20" font-size="8.15" text-anchor="end" font-weight="normal" font-family='"Liberation Sans", sans-serif' fill="#231f20" transform="rotate(-90 323.81 745.20)">TMPRSS2 g2</text>
<g fill="rgba(128,128,128,0.3)" stroke="#6e6e6e" stroke-width="0.95"><circle cx="129.30" cy="599.50" r="1.4"/><circle cx="130.40" cy="599.50" r="1.4"/><circle cx="131.50" cy="599.50" r="1.4"/><circle cx="132.60" cy="599.50" r="1.4"/><circle cx="133.70" cy="599.50" r="1.4"/><circle cx="141.50" cy="596.00" r="1.4"/><circle cx="139.60" cy="598.40" r="1.4"/><circle cx="143.00" cy="598.40" r="1.4"/><circle cx="151.40" cy="594.20" r="1.4"/><circle cx="151.40" cy="596.00" r="1.4"/><circle cx="151.40" cy="601.70" r="1.4"/><circle cx="151.40" cy="603.50" r="1.4"/><circle cx="161.50" cy="596.00" r="1.4"/><circle cx="159.60" cy="599.50" r="1.4"/><circle cx="163.50" cy="600.20" r="1.4"/><circle cx="161.50" cy="604.40" r="1.4"/><circle cx="169.50" cy="638.30" r="1.4"/><circle cx="173.60" cy="636.20" r="1.4"/><circle cx="171.70" cy="644.30" r="1.4"/><circle cx="171.70" cy="656.40" r="1.4"/><circle cx="181.20" cy="638.70" r="1.4"/><circle cx="179.70" cy="642.80" r="1.4"/><circle cx="183.40" cy="643.30" r="1.4"/><circle cx="181.20" cy="653.10" r="1.4"/><circle cx="191.50" cy="623.60" r="1.4"/><circle cx="191.50" cy="627.10" r="1.4"/><circle cx="189.50" cy="641.80" r="1.4"/><circle cx="193.60" cy="639.50" r="1.4"/><circle cx="201.60" cy="602.50" r="1.4"/><circle cx="200.00" cy="614.60" r="1.4"/><circle cx="203.40" cy="614.60" r="1.4"/><circle cx="201.60" cy="615.60" r="1.4"/><circle cx="209.90" cy="634.20" r="1.4"/><circle cx="212.10" cy="633.70" r="1.4"/><circle cx="213.70" cy="634.20" r="1.4"/><circle cx="221.30" cy="606.30" r="1.4"/><circle cx="219.80" cy="613.00" r="1.4"/><circle cx="223.40" cy="613.00" r="1.4"/><circle cx="231.40" cy="598.40" r="1.4"/><circle cx="231.40" cy="606.30" r="1.4"/><circle cx="231.40" cy="610.50" r="1.4"/><circle cx="231.40" cy="618.00" r="1.4"/><circle cx="241.30" cy="594.90" r="1.4"/><circle cx="239.40" cy="611.10" r="1.4"/><circle cx="241.60" cy="610.50" r="1.4"/><circle cx="243.50" cy="610.00" r="1.4"/><circle cx="251.40" cy="603.50" r="1.4"/><circle cx="251.40" cy="608.10" r="1.4"/><circle cx="249.10" cy="617.60" r="1.4"/><circle cx="253.30" cy="615.30" r="1.4"/><circle cx="261.20" cy="602.50" r="1.4"/><circle cx="261.20" cy="612.30" r="1.4"/><circle cx="261.20" cy="615.30" r="1.4"/><circle cx="261.20" cy="623.20" r="1.4"/><circle cx="271.20" cy="598.40" r="1.4"/><circle cx="271.20" cy="612.30" r="1.4"/><circle cx="281.30" cy="602.00" r="1.4"/><circle cx="281.30" cy="606.30" r="1.4"/><circle cx="279.30" cy="614.10" r="1.4"/><circle cx="283.20" cy="612.00" r="1.4"/><circle cx="290.80" cy="682.80" r="1.4"/><circle cx="290.80" cy="701.30" r="1.4"/><circle cx="290.80" cy="709.20" r="1.4"/><circle cx="301.00" cy="685.00" r="1.4"/><circle cx="301.00" cy="699.50" r="1.4"/><circle cx="301.00" cy="714.90" r="1.4"/><circle cx="311.00" cy="641.30" r="1.4"/><circle cx="309.60" cy="649.20" r="1.4"/><circle cx="312.60" cy="649.20" r="1.4"/><circle cx="321.20" cy="616.90" r="1.4"/><circle cx="321.20" cy="628.40" r="1.4"/></g>
<text x="226.20" y="568.10" font-size="8.15" text-anchor="middle" font-weight="normal" font-family='"Liberation Sans", sans-serif' fill="#231f20">MERS-CoV (spike IF)</text>
<text x="96.60" y="651.35" font-size="8.15" text-anchor="middle" font-weight="normal" font-family='"Liberation Sans", sans-serif' fill="#231f20" transform="rotate(-90 96.60 651.35)">Relative infection efficiency</text>
<text x="90.30" y="564.50" font-size="11" text-anchor="start" font-weight="bold" font-family='"Liberation Serif", serif' fill="#000">e</text>
<g fill="#111"><polygon points="174.75,582.35 175.25,583.61 176.60,583.70 175.56,584.56 175.90,585.88 174.75,585.15 173.60,585.88 173.94,584.56 172.90,583.70 174.25,583.61"/><polygon points="179.05,582.35 179.55,583.61 180.90,583.70 179.86,584.56 180.20,585.88 179.05,585.15 177.90,585.88 178.24,584.56 177.20,583.70 178.55,583.61"/><polygon points="183.35,582.35 183.85,583.61 185.20,583.70 184.16,584.56 184.50,585.88 183.35,585.15 182.20,585.88 182.54,584.56 181.50,583.70 182.85,583.61"/><polygon points="187.65,582.35 188.15,583.61 189.50,583.70 188.46,584.56 188.80,585.88 187.65,585.15 186.50,585.88 186.84,584.56 185.80,583.70 187.15,583.61"/></g>
<line x1="168.60" y1="587.50" x2="194.00" y2="587.50" stroke="#555" stroke-width="0.9"/>
<g fill="#111"><polygon points="199.25,589.45 199.75,590.71 201.10,590.80 200.06,591.66 200.40,592.98 199.25,592.25 198.10,592.98 198.44,591.66 197.40,590.80 198.75,590.71"/><polygon points="203.55,589.45 204.05,590.71 205.40,590.80 204.36,591.66 204.70,592.98 203.55,592.25 202.40,592.98 202.74,591.66 201.70,590.80 203.05,590.71"/></g>
<g fill="#111"><polygon points="204.95,582.35 205.45,583.61 206.80,583.70 205.76,584.56 206.10,585.88 204.95,585.15 203.80,585.88 204.14,584.56 203.10,583.70 204.45,583.61"/><polygon points="209.25,582.35 209.75,583.61 211.10,583.70 210.06,584.56 210.40,585.88 209.25,585.15 208.10,585.88 208.44,584.56 207.40,583.70 208.75,583.61"/><polygon points="213.55,582.35 214.05,583.61 215.40,583.70 214.36,584.56 214.70,585.88 213.55,585.15 212.40,585.88 212.74,584.56 211.70,583.70 213.05,583.61"/><polygon points="217.85,582.35 218.35,583.61 219.70,583.70 218.66,584.56 219.00,585.88 217.85,585.15 216.70,585.88 217.04,584.56 216.00,583.70 217.35,583.61"/></g>
<g fill="#111"><polygon points="219.25,589.55 219.75,590.81 221.10,590.90 220.06,591.76 220.40,593.08 219.25,592.35 218.10,593.08 218.44,591.76 217.40,590.90 218.75,590.81"/><polygon points="223.55,589.55 224.05,590.81 225.40,590.90 224.36,591.76 224.70,593.08 223.55,592.35 222.40,593.08 222.74,591.76 221.70,590.90 223.05,590.81"/></g>
<g fill="#111"><polygon points="231.40,589.55 231.90,590.81 233.25,590.90 232.21,591.76 232.55,593.08 231.40,592.35 230.25,593.08 230.59,591.76 229.55,590.90 230.90,590.81"/></g>
<g fill="#111"><polygon points="254.25,582.35 254.75,583.61 256.10,583.70 255.06,584.56 255.40,585.88 254.25,585.15 253.10,585.88 253.44,584.56 252.40,583.70 253.75,583.61"/><polygon points="258.55,582.35 259.05,583.61 260.40,583.70 259.36,584.56 259.70,585.88 258.55,585.15 257.40,585.88 257.74,584.56 256.70,583.70 258.05,583.61"/></g>
<line x1="248.80" y1="587.40" x2="263.90" y2="587.40" stroke="#555" stroke-width="0.9"/>
<g fill="#111"><polygon points="279.05,589.55 279.55,590.81 280.90,590.90 279.86,591.76 280.20,593.08 279.05,592.35 277.90,593.08 278.24,591.76 277.20,590.90 278.55,590.81"/><polygon points="283.35,589.55 283.85,590.81 285.20,590.90 284.16,591.76 284.50,593.08 283.35,592.35 282.20,593.08 282.54,591.76 281.50,590.90 282.85,590.81"/></g>
<g fill="#111"><polygon points="299.75,582.25 300.25,583.51 301.60,583.60 300.56,584.46 300.90,585.78 299.75,585.05 298.60,585.78 298.94,584.46 297.90,583.60 299.25,583.51"/><polygon points="304.05,582.25 304.55,583.51 305.90,583.60 304.86,584.46 305.20,585.78 304.05,585.05 302.90,585.78 303.24,584.46 302.20,583.60 303.55,583.51"/><polygon points="308.35,582.25 308.85,583.51 310.20,583.60 309.16,584.46 309.50,585.78 308.35,585.05 307.20,585.78 307.54,584.46 306.50,583.60 307.85,583.51"/><polygon points="312.65,582.25 313.15,583.51 314.50,583.60 313.46,584.46 313.80,585.78 312.65,585.05 311.50,585.78 311.84,584.46 310.80,583.60 312.15,583.51"/></g>
<line x1="289.90" y1="587.30" x2="323.90" y2="587.30" stroke="#555" stroke-width="0.9"/>
<line x1="384.00" y1="619.80" x2="585.50" y2="619.80" stroke="#e63a1e" stroke-width="1.05" stroke-dasharray="1 1.05"/>
<line x1="384.00" y1="646.70" x2="585.50" y2="646.70" stroke="#e63a1e" stroke-width="1.05" stroke-dasharray="1 1.05"/>
<line x1="382.40" y1="567.20" x2="382.40" y2="735.80" stroke="#7a7a7a" stroke-width="0.9"/>
<line x1="377.80" y1="735.30" x2="382.40" y2="735.30" stroke="#7a7a7a" stroke-width="0.8"/>
<line x1="379.80" y1="714.86" x2="382.40" y2="714.86" stroke="#7a7a7a" stroke-width="0.8"/>
<line x1="379.80" y1="702.90" x2="382.40" y2="702.90" stroke="#7a7a7a" stroke-width="0.8"/>
<line x1="379.80" y1="694.42" x2="382.40" y2="694.42" stroke="#7a7a7a" stroke-width="0.8"/>
<line x1="379.80" y1="687.84" x2="382.40" y2="687.84" stroke="#7a7a7a" stroke-width="0.8"/>
<line x1="379.80" y1="682.46" x2="382.40" y2="682.46" stroke="#7a7a7a" stroke-width="0.8"/>
<line x1="379.80" y1="677.92" x2="382.40" y2="677.92" stroke="#7a7a7a" stroke-width="0.8"/>
<line x1="379.80" y1="673.98" x2="382.40" y2="673.98" stroke="#7a7a7a" stroke-width="0.8"/>
<line x1="379.80" y1="670.51" x2="382.40" y2="670.51" stroke="#7a7a7a" stroke-width="0.8"/>
<line x1="377.80" y1="667.40" x2="382.40" y2="667.40" stroke="#7a7a7a" stroke-width="0.8"/>
<line x1="379.80" y1="646.96" x2="382.40" y2="646.96" stroke="#7a7a7a" stroke-width="0.8"/>
<line x1="379.80" y1="635.00" x2="382.40" y2="635.00" stroke="#7a7a7a" stroke-width="0.8"/>
<line x1="379.80" y1="626.52" x2="382.40" y2="626.52" stroke="#7a7a7a" stroke-width="0.8"/>
<line x1="379.80" y1="619.94" x2="382.40" y2="619.94" stroke="#7a7a7a" stroke-width="0.8"/>
<line x1="379.80" y1="614.56" x2="382.40" y2="614.56" stroke="#7a7a7a" stroke-width="0.8"/>
<line x1="379.80" y1="610.02" x2="382.40" y2="610.02" stroke="#7a7a7a" stroke-width="0.8"/>
<line x1="379.80" y1="606.08" x2="382.40" y2="606.08" stroke="#7a7a7a" stroke-width="0.8"/>
<line x1="379.80" y1="602.61" x2="382.40" y2="602.61" stroke="#7a7a7a" stroke-width="0.8"/>
<line x1="377.80" y1="599.50" x2="382.40" y2="599.50" stroke="#7a7a7a" stroke-width="0.8"/>
<line x1="379.80" y1="579.06" x2="382.40" y2="579.06" stroke="#7a7a7a" stroke-width="0.8"/>
<line x1="379.80" y1="567.10" x2="382.40" y2="567.10" stroke="#7a7a7a" stroke-width="0.8"/>
<text x="373.40" y="602.80" font-size="8.15" text-anchor="end" font-weight="normal" font-family='"Liberation Sans", sans-serif' fill="#231f20">100</text>
<text x="373.40" y="670.70" font-size="8.15" text-anchor="end" font-weight="normal" font-family='"Liberation Sans", sans-serif' fill="#231f20">10</text>
<text x="373.40" y="738.60" font-size="8.15" text-anchor="end" font-weight="normal" font-family='"Liberation Sans", sans-serif' fill="#231f20">1</text>
<line x1="381.95" y1="735.30" x2="585.50" y2="735.30" stroke="#7a7a7a" stroke-width="0.9"/>
<line x1="389.20" y1="735.30" x2="389.20" y2="739.80" stroke="#7a7a7a" stroke-width="0.85"/>
<line x1="399.17" y1="735.30" x2="399.17" y2="739.80" stroke="#7a7a7a" stroke-width="0.85"/>
<line x1="409.14" y1="735.30" x2="409.14" y2="739.80" stroke="#7a7a7a" stroke-width="0.85"/>
<line x1="419.11" y1="735.30" x2="419.11" y2="739.80" stroke="#7a7a7a" stroke-width="0.85"/>
<line x1="429.08" y1="735.30" x2="429.08" y2="739.80" stroke="#7a7a7a" stroke-width="0.85"/>
<line x1="439.05" y1="735.30" x2="439.05" y2="739.80" stroke="#7a7a7a" stroke-width="0.85"/>
<line x1="449.02" y1="735.30" x2="449.02" y2="739.80" stroke="#7a7a7a" stroke-width="0.85"/>
<line x1="458.99" y1="735.30" x2="458.99" y2="739.80" stroke="#7a7a7a" stroke-width="0.85"/>
<line x1="468.96" y1="735.30" x2="468.96" y2="739.80" stroke="#7a7a7a" stroke-width="0.85"/>
<line x1="478.93" y1="735.30" x2="478.93" y2="739.80" stroke="#7a7a7a" stroke-width="0.85"/>
<line x1="488.90" y1="735.30" x2="488.90" y2="739.80" stroke="#7a7a7a" stroke-width="0.85"/>
<line x1="498.87" y1="735.30" x2="498.87" y2="739.80" stroke="#7a7a7a" stroke-width="0.85"/>
<line x1="508.84" y1="735.30" x2="508.84" y2="739.80" stroke="#7a7a7a" stroke-width="0.85"/>
<line x1="518.81" y1="735.30" x2="518.81" y2="739.80" stroke="#7a7a7a" stroke-width="0.85"/>
<line x1="528.78" y1="735.30" x2="528.78" y2="739.80" stroke="#7a7a7a" stroke-width="0.85"/>
<line x1="538.75" y1="735.30" x2="538.75" y2="739.80" stroke="#7a7a7a" stroke-width="0.85"/>
<line x1="548.72" y1="735.30" x2="548.72" y2="739.80" stroke="#7a7a7a" stroke-width="0.85"/>
<line x1="558.69" y1="735.30" x2="558.69" y2="739.80" stroke="#7a7a7a" stroke-width="0.85"/>
<line x1="568.66" y1="735.30" x2="568.66" y2="739.80" stroke="#7a7a7a" stroke-width="0.85"/>
<line x1="578.63" y1="735.30" x2="578.63" y2="739.80" stroke="#7a7a7a" stroke-width="0.85"/>
<rect x="386.30" y="600.00" width="5.80" height="135.30" fill="#c0c0c0" stroke="#141414" stroke-width="1.0"/>
<text x="391.80" y="745.20" font-size="8.15" text-anchor="end" font-weight="normal" font-family='"Liberation Sans", sans-serif' fill="#231f20" transform="rotate(-90 391.80 745.20)">CTRL g1</text>
<line x1="399.17" y1="601.00" x2="399.17" y2="597.00" stroke="#5a5a5a" stroke-width="0.9"/>
<line x1="397.17" y1="597.00" x2="401.17" y2="597.00" stroke="#5a5a5a" stroke-width="0.9"/>
<rect x="396.27" y="601.50" width="5.80" height="133.80" fill="#c0c0c0" stroke="#141414" stroke-width="1.0"/>
<text x="401.77" y="745.20" font-size="8.15" text-anchor="end" font-weight="normal" font-family='"Liberation Sans", sans-serif' fill="#231f20" transform="rotate(-90 401.77 745.20)">CTRL g2</text>
<line x1="409.14" y1="594.20" x2="409.14" y2="586.90" stroke="#5a5a5a" stroke-width="0.9"/>
<line x1="407.14" y1="586.90" x2="411.14" y2="586.90" stroke="#5a5a5a" stroke-width="0.9"/>
<rect x="406.24" y="594.70" width="5.80" height="140.60" fill="#6cf36c" stroke="#141414" stroke-width="1.0"/>
<text x="411.74" y="745.20" font-size="8.15" text-anchor="end" font-weight="normal" font-family='"Liberation Sans", sans-serif' fill="#231f20" transform="rotate(-90 411.74 745.20)">ACE2 g1</text>
<line x1="419.11" y1="599.50" x2="419.11" y2="597.00" stroke="#5a5a5a" stroke-width="0.9"/>
<line x1="417.11" y1="597.00" x2="421.11" y2="597.00" stroke="#5a5a5a" stroke-width="0.9"/>
<rect x="416.21" y="600.00" width="5.80" height="135.30" fill="#6cf36c" stroke="#141414" stroke-width="1.0"/>
<text x="421.71" y="745.20" font-size="8.15" text-anchor="end" font-weight="normal" font-family='"Liberation Sans", sans-serif' fill="#231f20" transform="rotate(-90 421.71 745.20)">ACE2 g2</text>
<line x1="429.08" y1="637.20" x2="429.08" y2="625.90" stroke="#5a5a5a" stroke-width="0.9"/>
<line x1="427.08" y1="625.90" x2="431.08" y2="625.90" stroke="#5a5a5a" stroke-width="0.9"/>
<rect x="426.18" y="637.70" width="5.80" height="97.60" fill="#000000" stroke="#141414" stroke-width="1.0"/>
<text x="431.68" y="745.20" font-size="8.15" text-anchor="end" font-weight="normal" font-family='"Liberation Sans", sans-serif' fill="#231f20" transform="rotate(-90 431.68 745.20)">AP1G1 g1</text>
<line x1="439.05" y1="638.30" x2="439.05" y2="630.40" stroke="#5a5a5a" stroke-width="0.9"/>
<line x1="437.05" y1="630.40" x2="441.05" y2="630.40" stroke="#5a5a5a" stroke-width="0.9"/>
<rect x="436.15" y="638.80" width="5.80" height="96.50" fill="#000000" stroke="#141414" stroke-width="1.0"/>
<text x="441.65" y="745.20" font-size="8.15" text-anchor="end" font-weight="normal" font-family='"Liberation Sans", sans-serif' fill="#231f20" transform="rotate(-90 441.65 745.20)">AP1G1 g2</text>
<line x1="449.02" y1="633.10" x2="449.02" y2="625.10" stroke="#5a5a5a" stroke-width="0.9"/>
<line x1="447.02" y1="625.10" x2="451.02" y2="625.10" stroke="#5a5a5a" stroke-width="0.9"/>
<rect x="446.12" y="633.60" width="5.80" height="101.70" fill="#000000" stroke="#141414" stroke-width="1.0"/>
<text x="451.62" y="745.20" font-size="8.15" text-anchor="end" font-weight="normal" font-family='"Liberation Sans", sans-serif' fill="#231f20" transform="rotate(-90 451.62 745.20)">AP1B1 g1</text>
<line x1="458.99" y1="609.30" x2="458.99" y2="604.40" stroke="#5a5a5a" stroke-width="0.9"/>
<line x1="456.99" y1="604.40" x2="460.99" y2="604.40" stroke="#5a5a5a" stroke-width="0.9"/>
<rect x="456.09" y="609.80" width="5.80" height="125.50" fill="#000000" stroke="#141414" stroke-width="1.0"/>
<text x="461.59" y="745.20" font-size="8.15" text-anchor="end" font-weight="normal" font-family='"Liberation Sans", sans-serif' fill="#231f20" transform="rotate(-90 461.59 745.20)">AP1B1 g2</text>
<line x1="468.96" y1="626.60" x2="468.96" y2="617.60" stroke="#5a5a5a" stroke-width="0.9"/>
<line x1="466.96" y1="617.60" x2="470.96" y2="617.60" stroke="#5a5a5a" stroke-width="0.9"/>
<rect x="466.06" y="627.10" width="5.80" height="108.20" fill="#000000" stroke="#141414" stroke-width="1.0"/>
<text x="471.56" y="745.20" font-size="8.15" text-anchor="end" font-weight="normal" font-family='"Liberation Sans", sans-serif' fill="#231f20" transform="rotate(-90 471.56 745.20)">AAGAB g1</text>
<line x1="478.93" y1="607.00" x2="478.93" y2="598.00" stroke="#5a5a5a" stroke-width="0.9"/>
<line x1="476.93" y1="598.00" x2="480.93" y2="598.00" stroke="#5a5a5a" stroke-width="0.9"/>
<rect x="476.03" y="607.50" width="5.80" height="127.80" fill="#000000" stroke="#141414" stroke-width="1.0"/>
<text x="481.53" y="745.20" font-size="8.15" text-anchor="end" font-weight="normal" font-family='"Liberation Sans", sans-serif' fill="#231f20" transform="rotate(-90 481.53 745.20)">AAGAB g2</text>
<line x1="488.90" y1="604.00" x2="488.90" y2="599.00" stroke="#5a5a5a" stroke-width="0.9"/>
<line x1="486.90" y1="599.00" x2="490.90" y2="599.00" stroke="#5a5a5a" stroke-width="0.9"/>
<rect x="486.00" y="604.50" width="5.80" height="130.80" fill="#000000" stroke="#141414" stroke-width="1.0"/>
<text x="491.50" y="745.20" font-size="8.15" text-anchor="end" font-weight="normal" font-family='"Liberation Sans", sans-serif' fill="#231f20" transform="rotate(-90 491.50 745.20)">EP300 g1</text>
<line x1="498.87" y1="598.70" x2="498.87" y2="589.30" stroke="#5a5a5a" stroke-width="0.9"/>
<line x1="496.87" y1="589.30" x2="500.87" y2="589.30" stroke="#5a5a5a" stroke-width="0.9"/>
<rect x="495.97" y="599.20" width="5.80" height="136.10" fill="#000000" stroke="#141414" stroke-width="1.0"/>
<text x="501.47" y="745.20" font-size="8.15" text-anchor="end" font-weight="normal" font-family='"Liberation Sans", sans-serif' fill="#231f20" transform="rotate(-90 501.47 745.20)">EP300 g2</text>
<line x1="508.84" y1="612.60" x2="508.84" y2="610.00" stroke="#5a5a5a" stroke-width="0.9"/>
<line x1="506.84" y1="610.00" x2="510.84" y2="610.00" stroke="#5a5a5a" stroke-width="0.9"/>
<rect x="505.94" y="613.10" width="5.80" height="122.20" fill="#000000" stroke="#141414" stroke-width="1.0"/>
<text x="511.44" y="745.20" font-size="8.15" text-anchor="end" font-weight="normal" font-family='"Liberation Sans", sans-serif' fill="#231f20" transform="rotate(-90 511.44 745.20)">KMT2C g1</text>
<line x1="518.81" y1="616.10" x2="518.81" y2="611.00" stroke="#5a5a5a" stroke-width="0.9"/>
<line x1="516.81" y1="611.00" x2="520.81" y2="611.00" stroke="#5a5a5a" stroke-width="0.9"/>
<rect x="515.91" y="616.60" width="5.80" height="118.70" fill="#000000" stroke="#141414" stroke-width="1.0"/>
<text x="521.41" y="745.20" font-size="8.15" text-anchor="end" font-weight="normal" font-family='"Liberation Sans", sans-serif' fill="#231f20" transform="rotate(-90 521.41 745.20)">KMT2C g2</text>
<rect x="525.88" y="592.40" width="5.80" height="142.90" fill="#000000" stroke="#141414" stroke-width="1.0"/>
<text x="531.38" y="745.20" font-size="8.15" text-anchor="end" font-weight="normal" font-family='"Liberation Sans", sans-serif' fill="#231f20" transform="rotate(-90 531.38 745.20)">ATP8B1 g1</text>
<line x1="538.75" y1="605.50" x2="538.75" y2="600.00" stroke="#5a5a5a" stroke-width="0.9"/>
<line x1="536.75" y1="600.00" x2="540.75" y2="600.00" stroke="#5a5a5a" stroke-width="0.9"/>
<rect x="535.85" y="606.00" width="5.80" height="129.30" fill="#000000" stroke="#141414" stroke-width="1.0"/>
<text x="541.35" y="745.20" font-size="8.15" text-anchor="end" font-weight="normal" font-family='"Liberation Sans", sans-serif' fill="#231f20" transform="rotate(-90 541.35 745.20)">ATP8B1 g2</text>
<line x1="548.72" y1="671.40" x2="548.72" y2="670.00" stroke="#5a5a5a" stroke-width="0.9"/>
<line x1="546.72" y1="670.00" x2="550.72" y2="670.00" stroke="#5a5a5a" stroke-width="0.9"/>
<rect x="545.82" y="671.90" width="5.80" height="63.40" fill="#fd9a08" stroke="#141414" stroke-width="1.0"/>
<text x="551.32" y="745.20" font-size="8.15" text-anchor="end" font-weight="normal" font-family='"Liberation Sans", sans-serif' fill="#231f20" transform="rotate(-90 551.32 745.20)">DPP4 g1</text>
<line x1="558.69" y1="674.40" x2="558.69" y2="672.50" stroke="#5a5a5a" stroke-width="0.9"/>
<line x1="556.69" y1="672.50" x2="560.69" y2="672.50" stroke="#5a5a5a" stroke-width="0.9"/>
<rect x="555.79" y="674.90" width="5.80" height="60.40" fill="#fd9a08" stroke="#141414" stroke-width="1.0"/>
<text x="561.29" y="745.20" font-size="8.15" text-anchor="end" font-weight="normal" font-family='"Liberation Sans", sans-serif' fill="#231f20" transform="rotate(-90 561.29 745.20)">DPP4 g2</text>
<line x1="568.66" y1="636.80" x2="568.66" y2="630.00" stroke="#5a5a5a" stroke-width="0.9"/>
<line x1="566.66" y1="630.00" x2="570.66" y2="630.00" stroke="#5a5a5a" stroke-width="0.9"/>
<rect x="565.76" y="637.30" width="5.80" height="98.00" fill="#0a8f4f" stroke="#141414" stroke-width="1.0"/>
<text x="571.26" y="745.20" font-size="8.15" text-anchor="end" font-weight="normal" font-family='"Liberation Sans", sans-serif' fill="#231f20" transform="rotate(-90 571.26 745.20)">TMPRSS2 g1</text>
<line x1="578.63" y1="614.40" x2="578.63" y2="605.80" stroke="#5a5a5a" stroke-width="0.9"/>
<line x1="576.63" y1="605.80" x2="580.63" y2="605.80" stroke="#5a5a5a" stroke-width="0.9"/>
<rect x="575.73" y="614.90" width="5.80" height="120.40" fill="#0a8f4f" stroke="#141414" stroke-width="1.0"/>
<text x="581.23" y="745.20" font-size="8.15" text-anchor="end" font-weight="normal" font-family='"Liberation Sans", sans-serif' fill="#231f20" transform="rotate(-90 581.23 745.20)">TMPRSS2 g2</text>
<g fill="rgba(128,128,128,0.3)" stroke="#6e6e6e" stroke-width="0.95"><circle cx="387.00" cy="599.50" r="1.4"/><circle cx="388.10" cy="599.50" r="1.4"/><circle cx="389.20" cy="599.50" r="1.4"/><circle cx="390.30" cy="599.50" r="1.4"/><circle cx="391.40" cy="599.50" r="1.4"/><circle cx="399.20" cy="594.20" r="1.4"/><circle cx="397.40" cy="599.50" r="1.4"/><circle cx="401.40" cy="600.20" r="1.4"/><circle cx="399.20" cy="607.80" r="1.4"/><circle cx="407.50" cy="586.90" r="1.4"/><circle cx="411.60" cy="586.90" r="1.4"/><circle cx="409.40" cy="600.20" r="1.4"/><circle cx="409.40" cy="604.40" r="1.4"/><circle cx="419.10" cy="594.20" r="1.4"/><circle cx="417.00" cy="598.00" r="1.4"/><circle cx="421.10" cy="598.70" r="1.4"/><circle cx="419.10" cy="602.50" r="1.4"/><circle cx="429.10" cy="624.10" r="1.4"/><circle cx="429.10" cy="630.70" r="1.4"/><circle cx="429.10" cy="647.00" r="1.4"/><circle cx="429.10" cy="655.30" r="1.4"/><circle cx="437.20" cy="633.40" r="1.4"/><circle cx="441.50" cy="633.10" r="1.4"/><circle cx="439.20" cy="654.30" r="1.4"/><circle cx="439.70" cy="635.00" r="1.4"/><circle cx="449.00" cy="625.60" r="1.4"/><circle cx="447.20" cy="629.20" r="1.4"/><circle cx="451.30" cy="630.40" r="1.4"/><circle cx="449.00" cy="652.30" r="1.4"/><circle cx="459.10" cy="601.40" r="1.4"/><circle cx="459.10" cy="605.00" r="1.4"/><circle cx="459.10" cy="613.50" r="1.4"/><circle cx="459.10" cy="618.60" r="1.4"/><circle cx="469.00" cy="618.00" r="1.4"/><circle cx="469.00" cy="626.20" r="1.4"/><circle cx="469.00" cy="630.40" r="1.4"/><circle cx="469.00" cy="634.20" r="1.4"/><circle cx="479.20" cy="595.40" r="1.4"/><circle cx="477.10" cy="615.30" r="1.4"/><circle cx="481.10" cy="614.60" r="1.4"/><circle cx="486.40" cy="598.70" r="1.4"/><circle cx="489.00" cy="598.00" r="1.4"/><circle cx="491.00" cy="597.50" r="1.4"/><circle cx="489.00" cy="608.50" r="1.4"/><circle cx="489.00" cy="613.80" r="1.4"/><circle cx="499.00" cy="585.90" r="1.4"/><circle cx="497.00" cy="602.90" r="1.4"/><circle cx="500.80" cy="602.90" r="1.4"/><circle cx="499.00" cy="606.30" r="1.4"/><circle cx="507.10" cy="609.60" r="1.4"/><circle cx="509.50" cy="608.50" r="1.4"/><circle cx="511.70" cy="608.50" r="1.4"/><circle cx="509.10" cy="619.80" r="1.4"/><circle cx="518.90" cy="608.50" r="1.4"/><circle cx="517.10" cy="614.10" r="1.4"/><circle cx="521.20" cy="616.10" r="1.4"/><circle cx="518.90" cy="621.40" r="1.4"/><circle cx="529.00" cy="580.90" r="1.4"/><circle cx="529.00" cy="607.00" r="1.4"/><circle cx="538.90" cy="598.40" r="1.4"/><circle cx="538.90" cy="602.50" r="1.4"/><circle cx="538.90" cy="607.00" r="1.4"/><circle cx="538.90" cy="617.10" r="1.4"/><circle cx="547.30" cy="669.40" r="1.4"/><circle cx="549.40" cy="669.40" r="1.4"/><circle cx="551.40" cy="669.70" r="1.4"/><circle cx="549.10" cy="673.50" r="1.4"/><circle cx="557.40" cy="670.90" r="1.4"/><circle cx="558.90" cy="670.00" r="1.4"/><circle cx="558.90" cy="680.30" r="1.4"/><circle cx="566.20" cy="629.30" r="1.4"/><circle cx="568.50" cy="628.40" r="1.4"/><circle cx="570.80" cy="631.60" r="1.4"/><circle cx="568.90" cy="652.00" r="1.4"/><circle cx="578.70" cy="605.80" r="1.4"/><circle cx="578.70" cy="611.90" r="1.4"/><circle cx="578.70" cy="627.70" r="1.4"/></g>
<text x="483.90" y="567.80" font-size="8.15" text-anchor="middle" font-weight="normal" font-family='"Liberation Sans", sans-serif' fill="#231f20">MERS-CoV (dsRNA IF)</text>
<text x="355.40" y="651.25" font-size="8.15" text-anchor="middle" font-weight="normal" font-family='"Liberation Sans", sans-serif' fill="#231f20" transform="rotate(-90 355.40 651.25)">Relative infection efficiency</text>
<text x="349.40" y="564.10" font-size="10.5" text-anchor="start" font-weight="bold" font-family='"Liberation Sans", sans-serif' fill="#000">f</text>
<g fill="#111"><polygon points="430.40,580.85 430.90,582.11 432.25,582.20 431.21,583.06 431.55,584.38 430.40,583.65 429.25,584.38 429.59,583.06 428.55,582.20 429.90,582.11"/><polygon points="434.70,580.85 435.20,582.11 436.55,582.20 435.51,583.06 435.85,584.38 434.70,583.65 433.55,584.38 433.89,583.06 432.85,582.20 434.20,582.11"/><polygon points="439.00,580.85 439.50,582.11 440.85,582.20 439.81,583.06 440.15,584.38 439.00,583.65 437.85,584.38 438.19,583.06 437.15,582.20 438.50,582.11"/></g>
<line x1="427.10" y1="587.40" x2="441.80" y2="587.40" stroke="#555" stroke-width="0.9"/>
<g fill="#111"><polygon points="447.45,580.85 447.95,582.11 449.30,582.20 448.26,583.06 448.60,584.38 447.45,583.65 446.30,584.38 446.64,583.06 445.60,582.20 446.95,582.11"/><polygon points="451.75,580.85 452.25,582.11 453.60,582.20 452.56,583.06 452.90,584.38 451.75,583.65 450.60,584.38 450.94,583.06 449.90,582.20 451.25,582.11"/></g>
<g fill="#111"><polygon points="467.25,580.85 467.75,582.11 469.10,582.20 468.06,583.06 468.40,584.38 467.25,583.65 466.10,584.38 466.44,583.06 465.40,582.20 466.75,582.11"/><polygon points="471.55,580.85 472.05,582.11 473.40,582.20 472.36,583.06 472.70,584.38 471.55,583.65 470.40,584.38 470.74,583.06 469.70,582.20 471.05,582.11"/></g>
<g fill="#111"><polygon points="548.75,580.65 549.25,581.91 550.60,582.00 549.56,582.86 549.90,584.18 548.75,583.45 547.60,584.18 547.94,582.86 546.90,582.00 548.25,581.91"/><polygon points="553.05,580.65 553.55,581.91 554.90,582.00 553.86,582.86 554.20,584.18 553.05,583.45 551.90,584.18 552.24,582.86 551.20,582.00 552.55,581.91"/><polygon points="557.35,580.65 557.85,581.91 559.20,582.00 558.16,582.86 558.50,584.18 557.35,583.45 556.20,584.18 556.54,582.86 555.50,582.00 556.85,581.91"/><polygon points="561.65,580.65 562.15,581.91 563.50,582.00 562.46,582.86 562.80,584.18 561.65,583.45 560.50,584.18 560.84,582.86 559.80,582.00 561.15,581.91"/></g>
<line x1="547.50" y1="587.20" x2="562.80" y2="587.20" stroke="#555" stroke-width="0.9"/>
<g fill="#111"><polygon points="569.25,580.65 569.75,581.91 571.10,582.00 570.06,582.86 570.40,584.18 569.25,583.45 568.10,584.18 568.44,582.86 567.40,582.00 568.75,581.91"/><polygon points="573.55,580.65 574.05,581.91 575.40,582.00 574.36,582.86 574.70,584.18 573.55,583.45 572.40,584.18 572.74,582.86 571.70,582.00 573.05,581.91"/></g>
<text x="582.00" y="72.20" font-size="8.15" text-anchor="start" font-weight="normal" font-family='"Liberation Sans", sans-serif' fill="#231f20">50% inhibition</text>
<text x="582.00" y="99.20" font-size="8.15" text-anchor="start" font-weight="normal" font-family='"Liberation Sans", sans-serif' fill="#231f20">80% inhibition</text>
<line x1="150.30" y1="249.10" x2="166.70" y2="249.10" stroke="#a9a9a9" stroke-width="1.2"/>
<line x1="181.70" y1="249.10" x2="198.80" y2="249.10" stroke="#a9a9a9" stroke-width="1.2"/>
<line x1="213.20" y1="249.10" x2="358.40" y2="249.10" stroke="#a9a9a9" stroke-width="1.2"/>
<line x1="373.80" y1="249.10" x2="497.10" y2="249.10" stroke="#a9a9a9" stroke-width="1.2"/>
<line x1="511.90" y1="249.10" x2="571.00" y2="249.10" stroke="#a9a9a9" stroke-width="1.2"/>
<text x="113.70" y="259.10" font-size="8.15" text-anchor="start" font-weight="normal" font-family='"Liberation Sans", sans-serif' fill="#231f20">Screen:</text>
<text x="158.30" y="259.10" font-size="8.15" text-anchor="middle" font-weight="normal" font-family='"Liberation Sans", sans-serif' fill="#231f20">All</text>
<text x="189.80" y="259.10" font-size="8.15" text-anchor="middle" font-weight="normal" font-family='"Liberation Sans", sans-serif' fill="#231f20">Calu-3</text>
<text x="189.80" y="269.70" font-size="8.15" text-anchor="middle" font-weight="normal" font-family='"Liberation Sans", sans-serif' fill="#231f20">Caco-2</text>
<text x="285.20" y="259.10" font-size="8.15" text-anchor="middle" font-weight="normal" font-family='"Liberation Sans", sans-serif' fill="#231f20">Calu-3</text>
<text x="434.50" y="259.10" font-size="8.15" text-anchor="middle" font-weight="normal" font-family='"Liberation Sans", sans-serif' fill="#231f20">Vero E6</text>
<text x="541.80" y="259.10" font-size="8.15" text-anchor="middle" font-weight="normal" font-family='"Liberation Sans", sans-serif' fill="#231f20">Caco-2</text>
</svg>
</body></html>
